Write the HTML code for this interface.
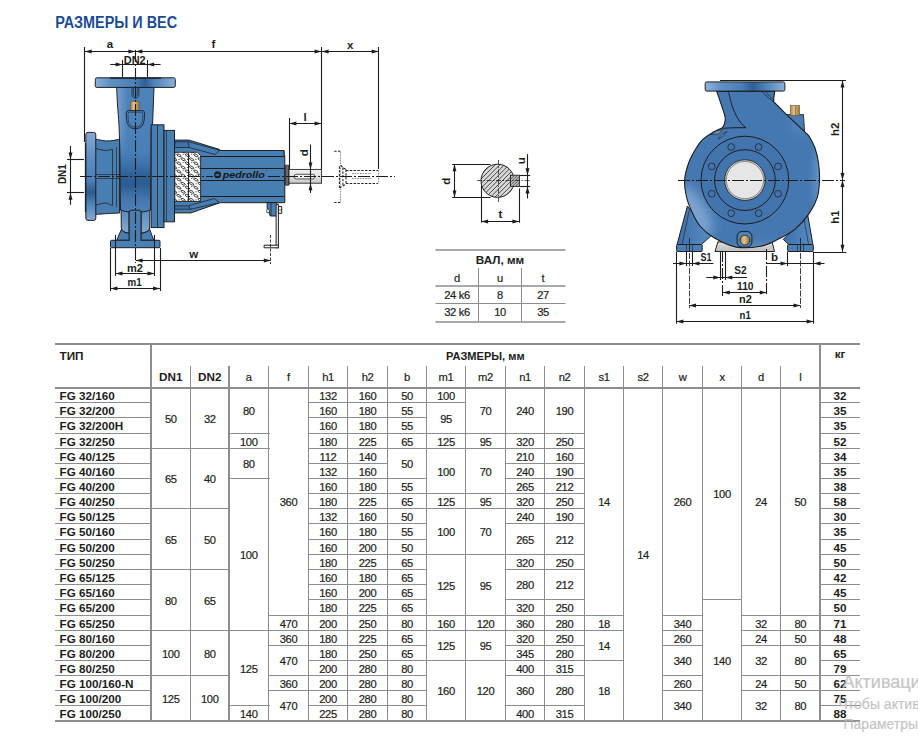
<!DOCTYPE html>
<html><head><meta charset="utf-8"><style>
html,body{margin:0;padding:0;background:#fff;}
body{width:918px;height:744px;overflow:hidden;position:relative;}
svg{position:absolute;left:0;top:0;font-family:"Liberation Sans", sans-serif;}
</style></head><body>
<svg width="918" height="744" viewBox="0 0 918 744">
<defs>
<linearGradient id="gTopFl" x1="0" y1="0" x2="1" y2="0">
 <stop offset="0" stop-color="#8fb1d9"/><stop offset="0.18" stop-color="#5f90c6"/>
 <stop offset="0.5" stop-color="#4a80b8"/><stop offset="0.62" stop-color="#2e5f95"/>
 <stop offset="0.72" stop-color="#4a80b8"/><stop offset="1" stop-color="#8fb1d9"/></linearGradient>
<linearGradient id="gLFl" x1="0" y1="0" x2="0" y2="1">
 <stop offset="0" stop-color="#86a9d4"/><stop offset="0.3" stop-color="#5b8cc3"/>
 <stop offset="0.55" stop-color="#4a80b8"/><stop offset="0.68" stop-color="#2c5b8f"/>
 <stop offset="0.8" stop-color="#4a80b8"/><stop offset="1" stop-color="#86a9d4"/></linearGradient>
<linearGradient id="gVol" x1="0" y1="0" x2="0" y2="1">
 <stop offset="0" stop-color="#4d83bb"/><stop offset="0.5" stop-color="#4a80b8"/>
 <stop offset="0.63" stop-color="#3d70a8"/><stop offset="0.7" stop-color="#2f6096"/>
 <stop offset="0.78" stop-color="#2d5d92"/><stop offset="0.9" stop-color="#4578b0"/>
 <stop offset="1" stop-color="#4a80b8"/></linearGradient>
<linearGradient id="gStem" x1="0" y1="0" x2="0" y2="1">
 <stop offset="0" stop-color="#4a80b8"/><stop offset="1" stop-color="#8aaad2"/></linearGradient>
<linearGradient id="gCollar" x1="0" y1="0" x2="1" y2="0">
 <stop offset="0" stop-color="#333"/><stop offset="0.5" stop-color="#777"/><stop offset="1" stop-color="#444"/></linearGradient>
<linearGradient id="gShaft" x1="0" y1="0" x2="0" y2="1">
 <stop offset="0" stop-color="#f2f2f2"/><stop offset="0.5" stop-color="#e0e0e0"/><stop offset="1" stop-color="#c8c8c8"/></linearGradient>
<linearGradient id="gGold" x1="0" y1="0" x2="1" y2="0">
 <stop offset="0" stop-color="#a8823f"/><stop offset="0.4" stop-color="#e7c38a"/><stop offset="1" stop-color="#9b7436"/></linearGradient>
<radialGradient id="gBody" cx="0.45" cy="0.55" r="0.6">
 <stop offset="0" stop-color="#3f74ae"/><stop offset="0.6" stop-color="#4678b2"/><stop offset="1" stop-color="#6a97c9"/></radialGradient>
<linearGradient id="gRFl" x1="0" y1="0" x2="1" y2="0">
 <stop offset="0" stop-color="#8fb1d9"/><stop offset="0.2" stop-color="#5f90c6"/>
 <stop offset="0.45" stop-color="#4a80b8"/><stop offset="0.6" stop-color="#2e5f95"/>
 <stop offset="0.75" stop-color="#4a80b8"/><stop offset="1" stop-color="#8fb1d9"/></linearGradient>
<linearGradient id="gLeg" x1="0" y1="0" x2="1" y2="0">
 <stop offset="0" stop-color="#3d70aa"/><stop offset="1" stop-color="#5a8cc3"/></linearGradient>
<linearGradient id="gBase" x1="0" y1="0" x2="0" y2="1">
 <stop offset="0" stop-color="#dcdcdc"/><stop offset="1" stop-color="#bdbdbd"/></linearGradient>
<pattern id="mesh" x="175" y="152.5" width="8.6" height="9.6" patternUnits="userSpaceOnUse">
 <rect width="8.6" height="9.6" fill="#fff"/>
 <ellipse cx="2.7" cy="2.6" rx="3.1" ry="1.3" transform="rotate(35 2.7 2.6)" fill="none" stroke="#222" stroke-width="0.98"/>
 <ellipse cx="7.0" cy="7.4" rx="3.1" ry="1.3" transform="rotate(35 7.0 7.4)" fill="none" stroke="#222" stroke-width="0.98"/>
 <circle cx="7.4" cy="2.0" r="0.65" fill="#333"/><circle cx="2.0" cy="7.6" r="0.65" fill="#333"/>
</pattern>
</defs>
<path d="M95.5,139.1 C97.2,139.4 102.6,140.7 105.5,140.9 C108.4,141.1 110.7,140.8 113.0,140.5 C115.3,140.2 118.5,139.3 119.6,139.1 L119.6,213.0 C118.5,213.1 115.3,213.2 113.0,213.3 C110.7,213.4 108.4,213.5 105.5,213.7 C102.6,213.9 97.2,214.3 95.5,214.4 Z" fill="#487eb2" stroke="#1d1d1b" stroke-width="0.98" />
<path d="M96.1,148.5 C97.7,148.8 102.8,150.4 105.5,150.5 C108.2,150.6 111.2,149.4 112.3,149.2" fill="none" stroke="#1d1d1b" stroke-width="0.73" />
<path d="M96.1,205.0 C97.7,204.7 102.8,202.9 105.5,203.0 C108.2,203.1 111.2,205.2 112.3,205.6" fill="none" stroke="#1d1d1b" stroke-width="0.73" />
<line x1="112.5" y1="149.2" x2="112.5" y2="205.6" stroke="#1d1d1b" stroke-width="0.73"/>
<line x1="116.5" y1="147.0" x2="116.5" y2="207.0" stroke="#1d1d1b" stroke-width="0.61"/>
<line x1="96.0" y1="174.5" x2="119.6" y2="174.5" stroke="#1d1d1b" stroke-width="0.61"/>
<line x1="96.0" y1="178.5" x2="119.6" y2="178.5" stroke="#1d1d1b" stroke-width="0.61"/>
<rect x="85.8" y="132.4" width="10" height="88" rx="2.2" fill="url(#gLFl)" stroke="#1d1d1b" stroke-width="0.98"/>
<line x1="85.5" y1="143.0" x2="85.5" y2="212.0" stroke="#1d1d1b" stroke-width="1.25"/>
<path d="M121,204 L121.3,228 Q122,232.2 129,233.3 L129,204 Z" fill="url(#gStem)" stroke="#1d1d1b" stroke-width="0.98" />
<path d="M150,204 L149.7,228 Q149,232.2 141,233.3 L141,204 Z" fill="url(#gStem)" stroke="#1d1d1b" stroke-width="0.98" />
<path d="M121.3,229.5 L116.8,240.3 L129.5,240.3 L129.3,233.3 Q122.5,232.6 121.3,229.5 Z" fill="#487eb2" stroke="#1d1d1b" stroke-width="0.98" />
<path d="M149.7,229.5 L153.8,240.3 L140.7,240.3 L140.9,233.3 Q147.5,232.6 149.7,229.5 Z" fill="#487eb2" stroke="#1d1d1b" stroke-width="0.98" />
<rect x="110.5" y="240.3" width="49.5" height="7.4" rx="1" fill="#4a80b8" stroke="#1d1d1b" stroke-width="0.98"/>
<path d="M116.6,87.3 C116.8,90.2 117.1,98.7 117.5,105.0 C117.9,111.3 118.6,117.5 119.0,125.0 C119.4,132.5 119.7,145.8 119.8,150.0 L120.5,210  C128,213 143,213 150.5,210 L151.2,130 L152.6,124 L154,87.3 Z" fill="url(#gVol)" stroke="#1d1d1b" stroke-width="0.00" />
<clipPath id="vlclip"><path d="M116.6,87.3 C116.8,90.2 117.1,98.7 117.5,105.0 C117.9,111.3 118.6,117.5 119.0,125.0 C119.4,132.5 119.7,145.8 119.8,150.0 L120.5,210  C128,213 143,213 150.5,210 L151.2,130 L152.6,124 L154,87.3 Z"/></clipPath>
<linearGradient id="gNeckHi" x1="0" y1="0" x2="1" y2="0"><stop offset="0" stop-color="#9dbde2" stop-opacity="0.55"/><stop offset="1" stop-color="#9dbde2" stop-opacity="0"/></linearGradient>
<linearGradient id="gNeckFade" x1="0" y1="0" x2="0" y2="1"><stop offset="0" stop-color="#fff"/><stop offset="0.6" stop-color="#fff"/><stop offset="1" stop-color="#000"/></linearGradient>
<mask id="neckmask"><rect x="110" y="87" width="50" height="70" fill="url(#gNeckFade)"/></mask>
<g clip-path="url(#vlclip)"><rect x="116" y="87" width="12" height="70" fill="url(#gNeckHi)" mask="url(#neckmask)"/></g>
<path d="M116.6,87.3 C116.8,90.2 117.1,98.7 117.5,105.0 C117.9,111.3 118.6,117.5 119.0,125.0 C119.4,132.5 119.7,145.8 119.8,150.0 L120.5,210  C128,213 143,213 150.5,210 L151.2,130 L152.6,124 L154,87.3 Z" fill="none" stroke="#1d1d1b" stroke-width="0.98" />
<path d="M129.2,241 L129.2,212.3 Q129.2,210.2 131.3,210.2 L138.9,210.2 Q141,210.2 141,212.3 L141,241" fill="#487eb2" stroke="#1d1d1b" stroke-width="0.98" />
<rect x="151.2" y="124.8" width="12.8" height="102.8" fill="#487eb2" stroke="#1d1d1b" stroke-width="0.98"/>
<line x1="157.5" y1="125.0" x2="157.5" y2="227.5" stroke="#1d1d1b" stroke-width="0.73"/>
<rect x="164" y="130.4" width="10.5" height="91.4" fill="#487eb2" stroke="#1d1d1b" stroke-width="0.98"/>
<line x1="166.5" y1="130.5" x2="166.5" y2="221.8" stroke="#1d1d1b" stroke-width="0.61"/>
<rect x="95.3" y="77.8" width="80" height="9.6" rx="1.6" fill="url(#gTopFl)" stroke="#1d1d1b" stroke-width="0.98"/>
<line x1="110.0" y1="78.2" x2="161.0" y2="78.2" stroke="#1d1d1b" stroke-width="1.25"/>
<path d="M132,88 L132,96 Q135.4,100.5 138.8,96 L138.8,88" fill="none" stroke="#1d1d1b" stroke-width="0.73" />
<path d="M133.5,88 L133.5,95 Q135.4,98 137.3,95 L137.3,88" fill="none" stroke="#1d1d1b" stroke-width="0.61" />
<rect x="130.6" y="101.3" width="8.5" height="9.3" fill="url(#gGold)" stroke="#6b5a3a" stroke-width="0.61"/>
<path d="M128.5,110.6 L142.4,110.6 Q144.6,110.6 144.6,113 L144.3,119.5 Q143.6,128.7 135.4,128.7 Q127.2,128.7 126.5,119.5 L126.2,113 Q126.2,110.6 128.5,110.6 Z" fill="none" stroke="#1d1d1b" stroke-width="0.85" />
<path d="M129.4,112.2 L141.4,112.2 Q143,112.2 142.9,114 L142.6,119.5 Q142,127.1 135.4,127.1 Q128.8,127.1 128.2,119.5 L127.9,114 Q127.8,112.2 129.4,112.2 Z" fill="none" stroke="#1d1d1b" stroke-width="0.55" />
<path d="M174.5,140.1 L189.0,140.1 L219.7,149.5 L219.7,202.8 L190.9,212.9 L174.5,212.9 Z" fill="#487eb2" stroke="#1d1d1b" stroke-width="0.98" />
<path d="M174.8,141.8 L188.5,141.8 L189.0,147.5 L174.8,147.5 Z" fill="#3f72aa" stroke="#1d1d1b" stroke-width="0.73" />
<path d="M189.0,141.8 L192.0,142.8 L219.7,150.3" fill="none" stroke="#1d1d1b" stroke-width="0.73" />
<path d="M189.0,147.5 L215.1,154.5 L219.7,150.3" fill="none" stroke="#1d1d1b" stroke-width="0.73" />
<path d="M174.8,205.9 L188.3,205.9 L190.9,209.2 L174.8,209.2 Z" fill="#3f72aa" stroke="#1d1d1b" stroke-width="0.73" />
<path d="M188.3,205.8 L214.4,198.5 L219.7,202.6" fill="none" stroke="#1d1d1b" stroke-width="0.73" />
<path d="M190.9,209.2 L219.7,202.6" fill="none" stroke="#1d1d1b" stroke-width="0.73" />
<clipPath id="mwclip"><path d="M174.8,152.3 L197.5,152.3 L200.6,155.5 L200.6,201.5 L174.8,201.5 Z"/></clipPath>
<path d="M174.8,152.3 L197.5,152.3 L200.6,155.5 L200.6,201.5 L174.8,201.5 Z" fill="#fff" stroke="#1d1d1b" stroke-width="0.00" />
<g clip-path="url(#mwclip)" fill="none" stroke="#222" stroke-width="0.79">
<ellipse cx="170.4" cy="147.2" rx="2.4" ry="1.0" transform="rotate(28 170.4 147.2)"/>
<ellipse cx="174.6" cy="151.2" rx="2.4" ry="1.0" transform="rotate(28 174.6 151.2)"/>
<circle cx="174.7" cy="146.0" r="0.55" fill="#333" stroke="none"/>
<circle cx="170.5" cy="151.3" r="0.55" fill="#333" stroke="none"/>
<ellipse cx="178.9" cy="147.2" rx="2.4" ry="1.0" transform="rotate(28 178.9 147.2)"/>
<ellipse cx="183.1" cy="151.2" rx="2.4" ry="1.0" transform="rotate(28 183.1 151.2)"/>
<circle cx="183.2" cy="146.0" r="0.55" fill="#333" stroke="none"/>
<circle cx="179.0" cy="151.3" r="0.55" fill="#333" stroke="none"/>
<ellipse cx="187.4" cy="147.2" rx="2.4" ry="1.0" transform="rotate(28 187.4 147.2)"/>
<ellipse cx="191.6" cy="151.2" rx="2.4" ry="1.0" transform="rotate(28 191.6 151.2)"/>
<circle cx="191.7" cy="146.0" r="0.55" fill="#333" stroke="none"/>
<circle cx="187.5" cy="151.3" r="0.55" fill="#333" stroke="none"/>
<ellipse cx="195.9" cy="147.2" rx="2.4" ry="1.0" transform="rotate(28 195.9 147.2)"/>
<ellipse cx="200.1" cy="151.2" rx="2.4" ry="1.0" transform="rotate(28 200.1 151.2)"/>
<circle cx="200.2" cy="146.0" r="0.55" fill="#333" stroke="none"/>
<circle cx="196.0" cy="151.3" r="0.55" fill="#333" stroke="none"/>
<ellipse cx="204.4" cy="147.2" rx="2.4" ry="1.0" transform="rotate(28 204.4 147.2)"/>
<ellipse cx="208.6" cy="151.2" rx="2.4" ry="1.0" transform="rotate(28 208.6 151.2)"/>
<circle cx="208.7" cy="146.0" r="0.55" fill="#333" stroke="none"/>
<circle cx="204.5" cy="151.3" r="0.55" fill="#333" stroke="none"/>
<ellipse cx="170.4" cy="155.3" rx="2.4" ry="1.0" transform="rotate(28 170.4 155.3)"/>
<ellipse cx="174.6" cy="159.3" rx="2.4" ry="1.0" transform="rotate(28 174.6 159.3)"/>
<circle cx="174.7" cy="154.1" r="0.55" fill="#333" stroke="none"/>
<circle cx="170.5" cy="159.4" r="0.55" fill="#333" stroke="none"/>
<ellipse cx="178.9" cy="155.3" rx="2.4" ry="1.0" transform="rotate(28 178.9 155.3)"/>
<ellipse cx="183.1" cy="159.3" rx="2.4" ry="1.0" transform="rotate(28 183.1 159.3)"/>
<circle cx="183.2" cy="154.1" r="0.55" fill="#333" stroke="none"/>
<circle cx="179.0" cy="159.4" r="0.55" fill="#333" stroke="none"/>
<ellipse cx="187.4" cy="155.3" rx="2.4" ry="1.0" transform="rotate(28 187.4 155.3)"/>
<ellipse cx="191.6" cy="159.3" rx="2.4" ry="1.0" transform="rotate(28 191.6 159.3)"/>
<circle cx="191.7" cy="154.1" r="0.55" fill="#333" stroke="none"/>
<circle cx="187.5" cy="159.4" r="0.55" fill="#333" stroke="none"/>
<ellipse cx="195.9" cy="155.3" rx="2.4" ry="1.0" transform="rotate(28 195.9 155.3)"/>
<ellipse cx="200.1" cy="159.3" rx="2.4" ry="1.0" transform="rotate(28 200.1 159.3)"/>
<circle cx="200.2" cy="154.1" r="0.55" fill="#333" stroke="none"/>
<circle cx="196.0" cy="159.4" r="0.55" fill="#333" stroke="none"/>
<ellipse cx="204.4" cy="155.3" rx="2.4" ry="1.0" transform="rotate(28 204.4 155.3)"/>
<ellipse cx="208.6" cy="159.3" rx="2.4" ry="1.0" transform="rotate(28 208.6 159.3)"/>
<circle cx="208.7" cy="154.1" r="0.55" fill="#333" stroke="none"/>
<circle cx="204.5" cy="159.4" r="0.55" fill="#333" stroke="none"/>
<ellipse cx="170.4" cy="163.4" rx="2.4" ry="1.0" transform="rotate(28 170.4 163.4)"/>
<ellipse cx="174.6" cy="167.4" rx="2.4" ry="1.0" transform="rotate(28 174.6 167.4)"/>
<circle cx="174.7" cy="162.2" r="0.55" fill="#333" stroke="none"/>
<circle cx="170.5" cy="167.5" r="0.55" fill="#333" stroke="none"/>
<ellipse cx="178.9" cy="163.4" rx="2.4" ry="1.0" transform="rotate(28 178.9 163.4)"/>
<ellipse cx="183.1" cy="167.4" rx="2.4" ry="1.0" transform="rotate(28 183.1 167.4)"/>
<circle cx="183.2" cy="162.2" r="0.55" fill="#333" stroke="none"/>
<circle cx="179.0" cy="167.5" r="0.55" fill="#333" stroke="none"/>
<ellipse cx="187.4" cy="163.4" rx="2.4" ry="1.0" transform="rotate(28 187.4 163.4)"/>
<ellipse cx="191.6" cy="167.4" rx="2.4" ry="1.0" transform="rotate(28 191.6 167.4)"/>
<circle cx="191.7" cy="162.2" r="0.55" fill="#333" stroke="none"/>
<circle cx="187.5" cy="167.5" r="0.55" fill="#333" stroke="none"/>
<ellipse cx="195.9" cy="163.4" rx="2.4" ry="1.0" transform="rotate(28 195.9 163.4)"/>
<ellipse cx="200.1" cy="167.4" rx="2.4" ry="1.0" transform="rotate(28 200.1 167.4)"/>
<circle cx="200.2" cy="162.2" r="0.55" fill="#333" stroke="none"/>
<circle cx="196.0" cy="167.5" r="0.55" fill="#333" stroke="none"/>
<ellipse cx="204.4" cy="163.4" rx="2.4" ry="1.0" transform="rotate(28 204.4 163.4)"/>
<ellipse cx="208.6" cy="167.4" rx="2.4" ry="1.0" transform="rotate(28 208.6 167.4)"/>
<circle cx="208.7" cy="162.2" r="0.55" fill="#333" stroke="none"/>
<circle cx="204.5" cy="167.5" r="0.55" fill="#333" stroke="none"/>
<ellipse cx="170.4" cy="171.5" rx="2.4" ry="1.0" transform="rotate(28 170.4 171.5)"/>
<ellipse cx="174.6" cy="175.5" rx="2.4" ry="1.0" transform="rotate(28 174.6 175.5)"/>
<circle cx="174.7" cy="170.3" r="0.55" fill="#333" stroke="none"/>
<circle cx="170.5" cy="175.6" r="0.55" fill="#333" stroke="none"/>
<ellipse cx="178.9" cy="171.5" rx="2.4" ry="1.0" transform="rotate(28 178.9 171.5)"/>
<ellipse cx="183.1" cy="175.5" rx="2.4" ry="1.0" transform="rotate(28 183.1 175.5)"/>
<circle cx="183.2" cy="170.3" r="0.55" fill="#333" stroke="none"/>
<circle cx="179.0" cy="175.6" r="0.55" fill="#333" stroke="none"/>
<ellipse cx="187.4" cy="171.5" rx="2.4" ry="1.0" transform="rotate(28 187.4 171.5)"/>
<ellipse cx="191.6" cy="175.5" rx="2.4" ry="1.0" transform="rotate(28 191.6 175.5)"/>
<circle cx="191.7" cy="170.3" r="0.55" fill="#333" stroke="none"/>
<circle cx="187.5" cy="175.6" r="0.55" fill="#333" stroke="none"/>
<ellipse cx="195.9" cy="171.5" rx="2.4" ry="1.0" transform="rotate(28 195.9 171.5)"/>
<ellipse cx="200.1" cy="175.5" rx="2.4" ry="1.0" transform="rotate(28 200.1 175.5)"/>
<circle cx="200.2" cy="170.3" r="0.55" fill="#333" stroke="none"/>
<circle cx="196.0" cy="175.6" r="0.55" fill="#333" stroke="none"/>
<ellipse cx="204.4" cy="171.5" rx="2.4" ry="1.0" transform="rotate(28 204.4 171.5)"/>
<ellipse cx="208.6" cy="175.5" rx="2.4" ry="1.0" transform="rotate(28 208.6 175.5)"/>
<circle cx="208.7" cy="170.3" r="0.55" fill="#333" stroke="none"/>
<circle cx="204.5" cy="175.6" r="0.55" fill="#333" stroke="none"/>
<ellipse cx="170.4" cy="179.6" rx="2.4" ry="1.0" transform="rotate(28 170.4 179.6)"/>
<ellipse cx="174.6" cy="183.7" rx="2.4" ry="1.0" transform="rotate(28 174.6 183.7)"/>
<circle cx="174.7" cy="178.4" r="0.55" fill="#333" stroke="none"/>
<circle cx="170.5" cy="183.7" r="0.55" fill="#333" stroke="none"/>
<ellipse cx="178.9" cy="179.6" rx="2.4" ry="1.0" transform="rotate(28 178.9 179.6)"/>
<ellipse cx="183.1" cy="183.7" rx="2.4" ry="1.0" transform="rotate(28 183.1 183.7)"/>
<circle cx="183.2" cy="178.4" r="0.55" fill="#333" stroke="none"/>
<circle cx="179.0" cy="183.7" r="0.55" fill="#333" stroke="none"/>
<ellipse cx="187.4" cy="179.6" rx="2.4" ry="1.0" transform="rotate(28 187.4 179.6)"/>
<ellipse cx="191.6" cy="183.7" rx="2.4" ry="1.0" transform="rotate(28 191.6 183.7)"/>
<circle cx="191.7" cy="178.4" r="0.55" fill="#333" stroke="none"/>
<circle cx="187.5" cy="183.7" r="0.55" fill="#333" stroke="none"/>
<ellipse cx="195.9" cy="179.6" rx="2.4" ry="1.0" transform="rotate(28 195.9 179.6)"/>
<ellipse cx="200.1" cy="183.7" rx="2.4" ry="1.0" transform="rotate(28 200.1 183.7)"/>
<circle cx="200.2" cy="178.4" r="0.55" fill="#333" stroke="none"/>
<circle cx="196.0" cy="183.7" r="0.55" fill="#333" stroke="none"/>
<ellipse cx="204.4" cy="179.6" rx="2.4" ry="1.0" transform="rotate(28 204.4 179.6)"/>
<ellipse cx="208.6" cy="183.7" rx="2.4" ry="1.0" transform="rotate(28 208.6 183.7)"/>
<circle cx="208.7" cy="178.4" r="0.55" fill="#333" stroke="none"/>
<circle cx="204.5" cy="183.7" r="0.55" fill="#333" stroke="none"/>
<ellipse cx="170.4" cy="187.7" rx="2.4" ry="1.0" transform="rotate(28 170.4 187.7)"/>
<ellipse cx="174.6" cy="191.8" rx="2.4" ry="1.0" transform="rotate(28 174.6 191.8)"/>
<circle cx="174.7" cy="186.5" r="0.55" fill="#333" stroke="none"/>
<circle cx="170.5" cy="191.8" r="0.55" fill="#333" stroke="none"/>
<ellipse cx="178.9" cy="187.7" rx="2.4" ry="1.0" transform="rotate(28 178.9 187.7)"/>
<ellipse cx="183.1" cy="191.8" rx="2.4" ry="1.0" transform="rotate(28 183.1 191.8)"/>
<circle cx="183.2" cy="186.5" r="0.55" fill="#333" stroke="none"/>
<circle cx="179.0" cy="191.8" r="0.55" fill="#333" stroke="none"/>
<ellipse cx="187.4" cy="187.7" rx="2.4" ry="1.0" transform="rotate(28 187.4 187.7)"/>
<ellipse cx="191.6" cy="191.8" rx="2.4" ry="1.0" transform="rotate(28 191.6 191.8)"/>
<circle cx="191.7" cy="186.5" r="0.55" fill="#333" stroke="none"/>
<circle cx="187.5" cy="191.8" r="0.55" fill="#333" stroke="none"/>
<ellipse cx="195.9" cy="187.7" rx="2.4" ry="1.0" transform="rotate(28 195.9 187.7)"/>
<ellipse cx="200.1" cy="191.8" rx="2.4" ry="1.0" transform="rotate(28 200.1 191.8)"/>
<circle cx="200.2" cy="186.5" r="0.55" fill="#333" stroke="none"/>
<circle cx="196.0" cy="191.8" r="0.55" fill="#333" stroke="none"/>
<ellipse cx="204.4" cy="187.7" rx="2.4" ry="1.0" transform="rotate(28 204.4 187.7)"/>
<ellipse cx="208.6" cy="191.8" rx="2.4" ry="1.0" transform="rotate(28 208.6 191.8)"/>
<circle cx="208.7" cy="186.5" r="0.55" fill="#333" stroke="none"/>
<circle cx="204.5" cy="191.8" r="0.55" fill="#333" stroke="none"/>
<ellipse cx="170.4" cy="195.8" rx="2.4" ry="1.0" transform="rotate(28 170.4 195.8)"/>
<ellipse cx="174.6" cy="199.8" rx="2.4" ry="1.0" transform="rotate(28 174.6 199.8)"/>
<circle cx="174.7" cy="194.6" r="0.55" fill="#333" stroke="none"/>
<circle cx="170.5" cy="199.9" r="0.55" fill="#333" stroke="none"/>
<ellipse cx="178.9" cy="195.8" rx="2.4" ry="1.0" transform="rotate(28 178.9 195.8)"/>
<ellipse cx="183.1" cy="199.8" rx="2.4" ry="1.0" transform="rotate(28 183.1 199.8)"/>
<circle cx="183.2" cy="194.6" r="0.55" fill="#333" stroke="none"/>
<circle cx="179.0" cy="199.9" r="0.55" fill="#333" stroke="none"/>
<ellipse cx="187.4" cy="195.8" rx="2.4" ry="1.0" transform="rotate(28 187.4 195.8)"/>
<ellipse cx="191.6" cy="199.8" rx="2.4" ry="1.0" transform="rotate(28 191.6 199.8)"/>
<circle cx="191.7" cy="194.6" r="0.55" fill="#333" stroke="none"/>
<circle cx="187.5" cy="199.9" r="0.55" fill="#333" stroke="none"/>
<ellipse cx="195.9" cy="195.8" rx="2.4" ry="1.0" transform="rotate(28 195.9 195.8)"/>
<ellipse cx="200.1" cy="199.8" rx="2.4" ry="1.0" transform="rotate(28 200.1 199.8)"/>
<circle cx="200.2" cy="194.6" r="0.55" fill="#333" stroke="none"/>
<circle cx="196.0" cy="199.9" r="0.55" fill="#333" stroke="none"/>
<ellipse cx="204.4" cy="195.8" rx="2.4" ry="1.0" transform="rotate(28 204.4 195.8)"/>
<ellipse cx="208.6" cy="199.8" rx="2.4" ry="1.0" transform="rotate(28 208.6 199.8)"/>
<circle cx="208.7" cy="194.6" r="0.55" fill="#333" stroke="none"/>
<circle cx="204.5" cy="199.9" r="0.55" fill="#333" stroke="none"/>
<ellipse cx="170.4" cy="203.9" rx="2.4" ry="1.0" transform="rotate(28 170.4 203.9)"/>
<ellipse cx="174.6" cy="207.9" rx="2.4" ry="1.0" transform="rotate(28 174.6 207.9)"/>
<circle cx="174.7" cy="202.7" r="0.55" fill="#333" stroke="none"/>
<circle cx="170.5" cy="208.0" r="0.55" fill="#333" stroke="none"/>
<ellipse cx="178.9" cy="203.9" rx="2.4" ry="1.0" transform="rotate(28 178.9 203.9)"/>
<ellipse cx="183.1" cy="207.9" rx="2.4" ry="1.0" transform="rotate(28 183.1 207.9)"/>
<circle cx="183.2" cy="202.7" r="0.55" fill="#333" stroke="none"/>
<circle cx="179.0" cy="208.0" r="0.55" fill="#333" stroke="none"/>
<ellipse cx="187.4" cy="203.9" rx="2.4" ry="1.0" transform="rotate(28 187.4 203.9)"/>
<ellipse cx="191.6" cy="207.9" rx="2.4" ry="1.0" transform="rotate(28 191.6 207.9)"/>
<circle cx="191.7" cy="202.7" r="0.55" fill="#333" stroke="none"/>
<circle cx="187.5" cy="208.0" r="0.55" fill="#333" stroke="none"/>
<ellipse cx="195.9" cy="203.9" rx="2.4" ry="1.0" transform="rotate(28 195.9 203.9)"/>
<ellipse cx="200.1" cy="207.9" rx="2.4" ry="1.0" transform="rotate(28 200.1 207.9)"/>
<circle cx="200.2" cy="202.7" r="0.55" fill="#333" stroke="none"/>
<circle cx="196.0" cy="208.0" r="0.55" fill="#333" stroke="none"/>
<ellipse cx="204.4" cy="203.9" rx="2.4" ry="1.0" transform="rotate(28 204.4 203.9)"/>
<ellipse cx="208.6" cy="207.9" rx="2.4" ry="1.0" transform="rotate(28 208.6 207.9)"/>
<circle cx="208.7" cy="202.7" r="0.55" fill="#333" stroke="none"/>
<circle cx="204.5" cy="208.0" r="0.55" fill="#333" stroke="none"/>
<ellipse cx="170.4" cy="212.0" rx="2.4" ry="1.0" transform="rotate(28 170.4 212.0)"/>
<ellipse cx="174.6" cy="216.0" rx="2.4" ry="1.0" transform="rotate(28 174.6 216.0)"/>
<circle cx="174.7" cy="210.8" r="0.55" fill="#333" stroke="none"/>
<circle cx="170.5" cy="216.1" r="0.55" fill="#333" stroke="none"/>
<ellipse cx="178.9" cy="212.0" rx="2.4" ry="1.0" transform="rotate(28 178.9 212.0)"/>
<ellipse cx="183.1" cy="216.0" rx="2.4" ry="1.0" transform="rotate(28 183.1 216.0)"/>
<circle cx="183.2" cy="210.8" r="0.55" fill="#333" stroke="none"/>
<circle cx="179.0" cy="216.1" r="0.55" fill="#333" stroke="none"/>
<ellipse cx="187.4" cy="212.0" rx="2.4" ry="1.0" transform="rotate(28 187.4 212.0)"/>
<ellipse cx="191.6" cy="216.0" rx="2.4" ry="1.0" transform="rotate(28 191.6 216.0)"/>
<circle cx="191.7" cy="210.8" r="0.55" fill="#333" stroke="none"/>
<circle cx="187.5" cy="216.1" r="0.55" fill="#333" stroke="none"/>
<ellipse cx="195.9" cy="212.0" rx="2.4" ry="1.0" transform="rotate(28 195.9 212.0)"/>
<ellipse cx="200.1" cy="216.0" rx="2.4" ry="1.0" transform="rotate(28 200.1 216.0)"/>
<circle cx="200.2" cy="210.8" r="0.55" fill="#333" stroke="none"/>
<circle cx="196.0" cy="216.1" r="0.55" fill="#333" stroke="none"/>
<ellipse cx="204.4" cy="212.0" rx="2.4" ry="1.0" transform="rotate(28 204.4 212.0)"/>
<ellipse cx="208.6" cy="216.0" rx="2.4" ry="1.0" transform="rotate(28 208.6 216.0)"/>
<circle cx="208.7" cy="210.8" r="0.55" fill="#333" stroke="none"/>
<circle cx="204.5" cy="216.1" r="0.55" fill="#333" stroke="none"/>
</g>
<path d="M174.8,152.3 L197.5,152.3 L200.6,155.5 L200.6,201.5 L174.8,201.5 Z" fill="none" stroke="#1d1d1b" stroke-width="0.85" />
<line x1="188.5" y1="152.6" x2="188.5" y2="201.0" stroke="#1d1d1b" stroke-width="0.98"/>
<rect x="219" y="150.5" width="65.8" height="52.2" fill="#487eb2"/>
<path d="M219.7,150.5 L284,150.5 L284,155.5 L284.8,155.5 L284.8,202.7 L219.7,202.7" fill="none" stroke="#1d1d1b" stroke-width="0.98" />
<line x1="200.6" y1="156.5" x2="284.2" y2="156.5" stroke="#1d1d1b" stroke-width="1.10"/>
<line x1="200.6" y1="168.5" x2="284.2" y2="168.5" stroke="#1d1d1b" stroke-width="1.10"/>
<line x1="200.6" y1="180.5" x2="284.2" y2="180.5" stroke="#1d1d1b" stroke-width="1.10"/>
<line x1="200.6" y1="196.5" x2="284.2" y2="196.5" stroke="#1d1d1b" stroke-width="1.10"/>
<rect x="284.8" y="165.2" width="4.4" height="20.1" rx="1" fill="url(#gCollar)" stroke="#1d1d1b" stroke-width="0.73"/>
<rect x="289" y="169.4" width="32.6" height="13.8" fill="url(#gShaft)" stroke="#1d1d1b" stroke-width="0.85"/>
<rect x="294" y="174.3" width="21" height="4.6" rx="2.3" fill="#f4f4f4" stroke="#1d1d1b" stroke-width="0.73"/>
<path d="M267.2,202.7 L276.8,202.7 L276.8,216.0 L270.3,216.0 L267.2,208.0 Z" fill="#487eb2" stroke="#1d1d1b" stroke-width="0.98" />
<path d="M271.0,202.7 L271.0,216.0" fill="none" stroke="#1d1d1b" stroke-width="0.73" />
<path d="M267.2,208.5 L269.5,210.5 L269.5,212.3 L266.5,212.3 Z" fill="#fff" stroke="#1d1d1b" stroke-width="0.73" />
<path d="M276.1,205.0 L278.4,204.3 L278.4,247.8 L276.1,247.8 Z" fill="#f4f4f4" stroke="#1d1d1b" stroke-width="0.98" />
<path d="M264.1,245.2 L278.4,245.2 L278.4,247.8 L264.1,247.8 Z" fill="#f4f4f4" stroke="#1d1d1b" stroke-width="0.98" />
<path d="M278.4,206.5 L281.7,206.5 L281.7,213.4 L278.4,213.4 Z" fill="#f4f4f4" stroke="#1d1d1b" stroke-width="0.98" />
<line x1="278.4" y1="210.0" x2="281.7" y2="210.0" stroke="#1d1d1b" stroke-width="0.61"/>
<circle cx="217.6" cy="174.7" r="3.5" fill="#1d1d1b"/>
<ellipse cx="217.4" cy="174.9" rx="2.2" ry="1.1" fill="#3f6fa5"/>
<text x="266" y="173.5" font-size="5" fill="#151515">'</text>
<text x="222.8" y="177.9" font-size="9.6" font-style="italic" font-weight="bold" fill="#151515" textLength="42" lengthAdjust="spacingAndGlyphs">pedrollo</text>
<path d="M340.5,152 L340.5,202" fill="none" stroke="#999" stroke-width="1.25" stroke-dasharray="1.6,1.0"/>
<path d="M334.2,151.3 L340.6,151.3 M334.2,202.5 L340.6,202.5" fill="none" stroke="#222" stroke-width="1.10" stroke-dasharray="2.4,1.4"/>
<path d="M339.4,187.8 L339.4,166.5 Q339.6,165.3 341,165.6 L342.9,167.5 L346,169.5 M339.4,187.8 L342.9,186 L346,184" fill="none" stroke="#222" stroke-width="1.10" stroke-dasharray="2.4,1.4"/>
<path d="M342.9,167.5 L342.9,186 M346,169.5 L346,184" fill="none" stroke="#222" stroke-width="1.10" stroke-dasharray="2.4,1.4"/>
<path d="M346,170.5 L378,170.5 M346,183.5 L378,183.5" fill="none" stroke="#222" stroke-width="1.22" stroke-dasharray="2.4,1.4"/>
<path d="M378.5,170.3 L378.5,183.5" fill="none" stroke="#999" stroke-width="1.25" stroke-dasharray="1.6,1.0"/>
<path d="M352.1,173.5 L371.3,173.5 M352.1,178.5 L371.3,178.5" fill="none" stroke="#888" stroke-width="1.22" stroke-dasharray="1.6,1.0"/>
<line x1="80.0" y1="176.5" x2="213.0" y2="176.5" stroke="#1d1d1b" stroke-width="1.10" stroke-dasharray="12,2,2,2"/>
<line x1="268.0" y1="176.5" x2="395.0" y2="176.5" stroke="#1d1d1b" stroke-width="1.10" stroke-dasharray="12,2,2,2"/>
<line x1="135.5" y1="50.0" x2="135.5" y2="263.0" stroke="#1d1d1b" stroke-width="1.10" stroke-dasharray="12,2,2,2"/>
<line x1="84.5" y1="47.0" x2="84.5" y2="142.0" stroke="#1d1d1b" stroke-width="1.10"/>
<line x1="321.5" y1="47.0" x2="321.5" y2="169.4" stroke="#1d1d1b" stroke-width="1.10"/>
<line x1="378.5" y1="47.0" x2="378.5" y2="169.0" stroke="#1d1d1b" stroke-width="1.10"/>
<line x1="84.7" y1="51.5" x2="378.7" y2="51.5" stroke="#1d1d1b" stroke-width="1.10"/>
<path d="M84.7,51.5 L91.7,49.5 L91.7,53.5 Z" fill="#1d1d1b"/>
<path d="M135.4,51.5 L128.4,53.5 L128.4,49.5 Z" fill="#1d1d1b"/>
<path d="M135.4,51.5 L142.4,49.5 L142.4,53.5 Z" fill="#1d1d1b"/>
<path d="M321.6,51.5 L314.6,53.5 L314.6,49.5 Z" fill="#1d1d1b"/>
<path d="M321.6,51.5 L328.6,49.5 L328.6,53.5 Z" fill="#1d1d1b"/>
<path d="M378.7,51.5 L371.7,53.5 L371.7,49.5 Z" fill="#1d1d1b"/>
<text x="110" y="47.8" font-size="11.5" text-anchor="middle" fill="#1d1d1b" font-weight="bold">a</text>
<text x="213.5" y="47.5" font-size="11.5" text-anchor="middle" fill="#1d1d1b" font-weight="bold">f</text>
<text x="350.2" y="48.8" font-size="11.5" text-anchor="middle" fill="#1d1d1b" font-weight="bold">x</text>
<line x1="110.2" y1="64.5" x2="160.6" y2="64.5" stroke="#1d1d1b" stroke-width="1.10"/>
<line x1="122.5" y1="60.0" x2="122.5" y2="77.0" stroke="#1d1d1b" stroke-width="1.10"/>
<line x1="147.5" y1="60.0" x2="147.5" y2="77.0" stroke="#1d1d1b" stroke-width="1.10"/>
<path d="M122.6,64.5 L115.6,66.5 L115.6,62.5 Z" fill="#1d1d1b"/>
<path d="M147.2,64.5 L154.2,62.5 L154.2,66.5 Z" fill="#1d1d1b"/>
<text x="134.7" y="64.2" font-size="11.5" text-anchor="middle" fill="#1d1d1b" font-weight="bold" textLength="21.9" lengthAdjust="spacingAndGlyphs">DN2</text>
<line x1="289.5" y1="118.0" x2="289.5" y2="169.0" stroke="#1d1d1b" stroke-width="1.10"/>
<line x1="289.4" y1="123.5" x2="321.6" y2="123.5" stroke="#1d1d1b" stroke-width="1.10"/>
<path d="M289.4,123.5 L296.4,121.5 L296.4,125.5 Z" fill="#1d1d1b"/>
<path d="M321.6,123.5 L314.6,125.5 L314.6,121.5 Z" fill="#1d1d1b"/>
<text x="305.2" y="121.3" font-size="11.5" text-anchor="middle" fill="#1d1d1b" font-weight="bold">l</text>
<line x1="310.5" y1="144.5" x2="310.5" y2="193.0" stroke="#1d1d1b" stroke-width="1.10"/>
<path d="M310.5,169.4 L308.6,162.4 L312.4,162.4 Z" fill="#1d1d1b"/>
<path d="M310.5,183.2 L312.4,190.2 L308.6,190.2 Z" fill="#1d1d1b"/>
<text x="307.9" y="152.6" font-size="11.5" text-anchor="middle" fill="#1d1d1b" font-weight="bold" transform="rotate(-90 307.9 152.6)">d</text>
<line x1="70.5" y1="146.0" x2="70.5" y2="204.8" stroke="#1d1d1b" stroke-width="1.10"/>
<line x1="67.0" y1="159.5" x2="84.0" y2="159.5" stroke="#1d1d1b" stroke-width="1.10"/>
<line x1="67.0" y1="192.5" x2="84.0" y2="192.5" stroke="#1d1d1b" stroke-width="1.10"/>
<path d="M70.5,159.4 L68.5,152.4 L72.5,152.4 Z" fill="#1d1d1b"/>
<path d="M70.5,192.7 L72.5,199.7 L68.5,199.7 Z" fill="#1d1d1b"/>
<text x="66.5" y="174.1" font-size="11.5" text-anchor="middle" fill="#1d1d1b" font-weight="bold" transform="rotate(-90 66.5 174.1)" textLength="20" lengthAdjust="spacingAndGlyphs">DN1</text>
<line x1="135.6" y1="260.5" x2="270.8" y2="260.5" stroke="#1d1d1b" stroke-width="1.10"/>
<path d="M135.6,260.5 L142.6,258.6 L142.6,262.4 Z" fill="#1d1d1b"/>
<path d="M270.8,260.5 L263.8,262.4 L263.8,258.6 Z" fill="#1d1d1b"/>
<line x1="270.5" y1="235.0" x2="270.5" y2="264.0" stroke="#1d1d1b" stroke-width="0.85" stroke-dasharray="3,1.5"/>
<text x="193.8" y="258.3" font-size="11.5" text-anchor="middle" fill="#1d1d1b" font-weight="bold">w</text>
<line x1="110.5" y1="248.0" x2="110.5" y2="291.0" stroke="#1d1d1b" stroke-width="1.10"/>
<line x1="160.5" y1="248.0" x2="160.5" y2="291.0" stroke="#1d1d1b" stroke-width="1.10"/>
<line x1="115.5" y1="235.0" x2="115.5" y2="276.0" stroke="#1d1d1b" stroke-width="1.10"/>
<line x1="154.5" y1="235.0" x2="154.5" y2="276.0" stroke="#1d1d1b" stroke-width="1.10"/>
<line x1="115.5" y1="273.5" x2="154.5" y2="273.5" stroke="#1d1d1b" stroke-width="1.10"/>
<path d="M115.5,273.5 L122.5,271.6 L122.5,275.4 Z" fill="#1d1d1b"/>
<path d="M154.5,273.5 L147.5,275.4 L147.5,271.6 Z" fill="#1d1d1b"/>
<line x1="110.4" y1="288.5" x2="160.0" y2="288.5" stroke="#1d1d1b" stroke-width="1.10"/>
<path d="M110.4,288.5 L117.4,286.6 L117.4,290.4 Z" fill="#1d1d1b"/>
<path d="M160.0,288.5 L153.0,290.4 L153.0,286.6 Z" fill="#1d1d1b"/>
<text x="134.9" y="272" font-size="11.5" text-anchor="middle" fill="#1d1d1b" font-weight="bold" textLength="15.9" lengthAdjust="spacingAndGlyphs">m2</text>
<text x="134.7" y="286" font-size="11.5" text-anchor="middle" fill="#1d1d1b" font-weight="bold" textLength="14.2" lengthAdjust="spacingAndGlyphs">m1</text>
<defs><pattern id="hatch" width="4" height="4" patternUnits="userSpaceOnUse" patternTransform="rotate(45)"><rect width="4" height="4" fill="#d9d9d9"/><line x1="0" y1="0" x2="0" y2="4" stroke="#555" stroke-width="1.10"/></pattern><pattern id="hatch2" width="2.2" height="2.2" patternUnits="userSpaceOnUse" patternTransform="rotate(45)"><rect width="2.2" height="2.2" fill="#bbb"/><line x1="0" y1="0" x2="0" y2="2.2" stroke="#444" stroke-width="0.85"/></pattern></defs>
<clipPath id="scl"><circle cx="497.6" cy="180.8" r="16.6"/></clipPath><clipPath id="kcl"><rect x="510.4" y="175.2" width="9" height="11.2"/></clipPath>
<circle cx="497.6" cy="180.8" r="16.6" fill="#d9d9d9"/>
<g clip-path="url(#scl)" stroke="#3a3a3a" stroke-width="0.92">
<line x1="422.4" y1="200.8" x2="462.4" y2="160.8"/>
<line x1="427.0" y1="200.8" x2="467.0" y2="160.8"/>
<line x1="431.6" y1="200.8" x2="471.6" y2="160.8"/>
<line x1="436.2" y1="200.8" x2="476.2" y2="160.8"/>
<line x1="440.8" y1="200.8" x2="480.8" y2="160.8"/>
<line x1="445.4" y1="200.8" x2="485.4" y2="160.8"/>
<line x1="450.0" y1="200.8" x2="490.0" y2="160.8"/>
<line x1="454.6" y1="200.8" x2="494.6" y2="160.8"/>
<line x1="459.2" y1="200.8" x2="499.2" y2="160.8"/>
<line x1="463.8" y1="200.8" x2="503.8" y2="160.8"/>
<line x1="468.4" y1="200.8" x2="508.4" y2="160.8"/>
<line x1="473.0" y1="200.8" x2="513.0" y2="160.8"/>
<line x1="477.6" y1="200.8" x2="517.6" y2="160.8"/>
<line x1="482.2" y1="200.8" x2="522.2" y2="160.8"/>
<line x1="486.8" y1="200.8" x2="526.8" y2="160.8"/>
<line x1="491.4" y1="200.8" x2="531.4" y2="160.8"/>
<line x1="496.0" y1="200.8" x2="536.0" y2="160.8"/>
<line x1="500.6" y1="200.8" x2="540.6" y2="160.8"/>
<line x1="505.2" y1="200.8" x2="545.2" y2="160.8"/>
<line x1="509.8" y1="200.8" x2="549.8" y2="160.8"/>
<line x1="514.4" y1="200.8" x2="554.4" y2="160.8"/>
<line x1="519.0" y1="200.8" x2="559.0" y2="160.8"/>
<line x1="523.6" y1="200.8" x2="563.6" y2="160.8"/>
<line x1="528.2" y1="200.8" x2="568.2" y2="160.8"/>
<line x1="532.8" y1="200.8" x2="572.8" y2="160.8"/>
</g>
<circle cx="497.6" cy="180.8" r="16.6" fill="none" stroke="#1d1d1b" stroke-width="0.98"/>
<rect x="510.4" y="175.2" width="9" height="11.2" fill="#bdbdbd"/>
<g clip-path="url(#kcl)" stroke="#333" stroke-width="0.73">
<line x1="483.0" y1="188.8" x2="499.0" y2="172.8"/>
<line x1="486.0" y1="188.8" x2="502.0" y2="172.8"/>
<line x1="489.0" y1="188.8" x2="505.0" y2="172.8"/>
<line x1="492.0" y1="188.8" x2="508.0" y2="172.8"/>
<line x1="495.0" y1="188.8" x2="511.0" y2="172.8"/>
<line x1="498.0" y1="188.8" x2="514.0" y2="172.8"/>
<line x1="501.0" y1="188.8" x2="517.0" y2="172.8"/>
<line x1="504.0" y1="188.8" x2="520.0" y2="172.8"/>
<line x1="507.0" y1="188.8" x2="523.0" y2="172.8"/>
<line x1="510.0" y1="188.8" x2="526.0" y2="172.8"/>
<line x1="513.0" y1="188.8" x2="529.0" y2="172.8"/>
<line x1="516.0" y1="188.8" x2="532.0" y2="172.8"/>
<line x1="519.0" y1="188.8" x2="535.0" y2="172.8"/>
<line x1="522.0" y1="188.8" x2="538.0" y2="172.8"/>
<line x1="525.0" y1="188.8" x2="541.0" y2="172.8"/>
<line x1="528.0" y1="188.8" x2="544.0" y2="172.8"/>
<line x1="531.0" y1="188.8" x2="547.0" y2="172.8"/>
</g>
<rect x="510.4" y="175.2" width="9" height="11.2" fill="none" stroke="#1d1d1b" stroke-width="0.85"/>
<line x1="477.0" y1="180.5" x2="530.0" y2="180.5" stroke="#1d1d1b" stroke-width="0.73" stroke-dasharray="5,1.5,1.5,1.5"/>
<line x1="498.5" y1="160.0" x2="498.5" y2="202.0" stroke="#1d1d1b" stroke-width="0.73" stroke-dasharray="5,1.5,1.5,1.5"/>
<line x1="452.2" y1="164.5" x2="490.5" y2="164.5" stroke="#1d1d1b" stroke-width="1.10"/>
<line x1="452.2" y1="197.5" x2="490.5" y2="197.5" stroke="#1d1d1b" stroke-width="1.10"/>
<line x1="454.5" y1="164.2" x2="454.5" y2="197.6" stroke="#1d1d1b" stroke-width="1.10"/>
<path d="M454.5,164.2 L456.4,171.2 L452.6,171.2 Z" fill="#1d1d1b"/>
<path d="M454.5,197.6 L452.6,190.6 L456.4,190.6 Z" fill="#1d1d1b"/>
<text x="450.5" y="181.3" font-size="11.5" text-anchor="middle" fill="#1d1d1b" font-weight="bold" transform="rotate(-90 450.5 181.3)">d</text>
<line x1="481.5" y1="185.7" x2="481.5" y2="222.7" stroke="#1d1d1b" stroke-width="1.10"/>
<line x1="519.5" y1="188.4" x2="519.5" y2="222.7" stroke="#1d1d1b" stroke-width="1.10"/>
<line x1="481.1" y1="221.5" x2="519.4" y2="221.5" stroke="#1d1d1b" stroke-width="1.10"/>
<path d="M481.1,221.5 L488.1,219.6 L488.1,223.4 Z" fill="#1d1d1b"/>
<path d="M519.4,221.5 L512.4,223.4 L512.4,219.6 Z" fill="#1d1d1b"/>
<text x="500.5" y="218" font-size="11.5" text-anchor="middle" fill="#1d1d1b" font-weight="bold">t</text>
<line x1="519.4" y1="175.5" x2="530.2" y2="175.5" stroke="#1d1d1b" stroke-width="1.10"/>
<line x1="519.4" y1="186.5" x2="530.2" y2="186.5" stroke="#1d1d1b" stroke-width="1.10"/>
<line x1="527.5" y1="154.1" x2="527.5" y2="198.5" stroke="#1d1d1b" stroke-width="1.10"/>
<path d="M527.5,175.2 L525.5,168.2 L529.5,168.2 Z" fill="#1d1d1b"/>
<path d="M527.5,186.4 L529.5,193.4 L525.5,193.4 Z" fill="#1d1d1b"/>
<text x="525.3" y="160.8" font-size="11.5" text-anchor="middle" fill="#1d1d1b" font-weight="bold" transform="rotate(-90 525.3 160.8)">u</text>
<path d="M687.4,206.1 L677.0,244.6 L701.4,244.6 L711.0,235.8 Z" fill="url(#gLeg)" stroke="#1d1d1b" stroke-width="0.98" />
<line x1="689.2" y1="210.5" x2="682.2" y2="244.5" stroke="#1d1d1b" stroke-width="0.61"/>
<path d="M807.7,214.9 L812.9,244.6 L788.5,244.6 L783.3,239.3 Z" fill="url(#gLeg)" stroke="#1d1d1b" stroke-width="0.98" />
<line x1="804.2" y1="220.0" x2="808.6" y2="244.5" stroke="#1d1d1b" stroke-width="0.61"/>
<path d="M717.9,241.9 L772.0,241.9 L774.6,251.5 L715.0,251.5 Z" fill="url(#gBase)" stroke="#1d1d1b" stroke-width="0.98" />
<rect x="676.6" y="244.5" width="25.6" height="7" rx="1" fill="#4a80b8" stroke="#1d1d1b" stroke-width="0.98"/>
<rect x="787.6" y="244.5" width="25.7" height="7" rx="1" fill="#4a80b8" stroke="#1d1d1b" stroke-width="0.98"/>
<line x1="686.5" y1="244.5" x2="686.5" y2="251.5" stroke="#1d1d1b" stroke-width="0.61"/>
<line x1="689.5" y1="244.5" x2="689.5" y2="251.5" stroke="#1d1d1b" stroke-width="0.61"/>
<line x1="692.5" y1="244.5" x2="692.5" y2="251.5" stroke="#1d1d1b" stroke-width="0.61"/>
<line x1="797.5" y1="244.5" x2="797.5" y2="251.5" stroke="#1d1d1b" stroke-width="0.61"/>
<line x1="800.5" y1="244.5" x2="800.5" y2="251.5" stroke="#1d1d1b" stroke-width="0.61"/>
<line x1="803.5" y1="244.5" x2="803.5" y2="251.5" stroke="#1d1d1b" stroke-width="0.61"/>
<path d="M786.5,114.6 L803.5,114.6 L804.5,131.0 L795.0,131.0 Z" fill="#487eb2" stroke="#1d1d1b" stroke-width="0.85" />
<rect x="790.4" y="105.5" width="9.2" height="9.8" fill="url(#gGold)" stroke="#6b5a3a" stroke-width="0.61"/>
<line x1="795.5" y1="105.5" x2="795.5" y2="115.3" stroke="#6b5a3a" stroke-width="0.61"/>
<clipPath id="volclip"><path d="M716.6,91.1 C717.4,93.3 719.7,99.8 721.1,104.1 C722.5,108.4 724.6,113.9 725.1,117.2 C725.6,120.5 724.8,122.0 724.4,123.8 C724.0,125.5 722.8,127.0 722.5,127.7 C720.8,128.6 715.3,131.0 712.0,132.9 C708.7,134.8 705.4,136.9 702.8,139.4 C700.2,141.9 698.6,144.2 696.3,148.0 C694.0,151.8 691.0,156.7 689.0,162.0 C687.0,167.3 685.0,174.2 684.6,180.0 C684.2,185.8 685.3,191.7 686.5,197.0 C687.7,202.3 689.8,207.2 692.0,212.0 C694.2,216.8 696.4,221.8 700.0,226.0 C703.6,230.2 707.6,234.0 713.6,237.5 C719.6,241.0 728.4,245.7 736.2,247.1 C744.0,248.5 753.6,247.5 760.6,246.2 C767.6,244.9 772.2,242.2 778.0,239.3 C783.8,236.4 790.3,233.2 795.5,228.8 C800.7,224.4 805.8,218.3 809.4,213.1 C813.0,207.9 815.6,202.9 817.3,197.4 C819.0,191.9 819.3,185.7 819.5,180.0 C819.7,174.3 819.2,168.3 818.5,163.0 C817.8,157.7 816.6,152.6 815.0,148.0 C813.4,143.4 809.8,137.6 808.7,135.5 L786.5,114.6 L773.4,101.5 L774.7,91.1 Z"/></clipPath>
<filter id="blur6" x="-50%" y="-50%" width="200%" height="200%"><feGaussianBlur stdDeviation="6"/></filter>
<filter id="blur4" x="-50%" y="-50%" width="200%" height="200%"><feGaussianBlur stdDeviation="4"/></filter>
<path d="M716.6,91.1 C717.4,93.3 719.7,99.8 721.1,104.1 C722.5,108.4 724.6,113.9 725.1,117.2 C725.6,120.5 724.8,122.0 724.4,123.8 C724.0,125.5 722.8,127.0 722.5,127.7 C720.8,128.6 715.3,131.0 712.0,132.9 C708.7,134.8 705.4,136.9 702.8,139.4 C700.2,141.9 698.6,144.2 696.3,148.0 C694.0,151.8 691.0,156.7 689.0,162.0 C687.0,167.3 685.0,174.2 684.6,180.0 C684.2,185.8 685.3,191.7 686.5,197.0 C687.7,202.3 689.8,207.2 692.0,212.0 C694.2,216.8 696.4,221.8 700.0,226.0 C703.6,230.2 707.6,234.0 713.6,237.5 C719.6,241.0 728.4,245.7 736.2,247.1 C744.0,248.5 753.6,247.5 760.6,246.2 C767.6,244.9 772.2,242.2 778.0,239.3 C783.8,236.4 790.3,233.2 795.5,228.8 C800.7,224.4 805.8,218.3 809.4,213.1 C813.0,207.9 815.6,202.9 817.3,197.4 C819.0,191.9 819.3,185.7 819.5,180.0 C819.7,174.3 819.2,168.3 818.5,163.0 C817.8,157.7 816.6,152.6 815.0,148.0 C813.4,143.4 809.8,137.6 808.7,135.5 L786.5,114.6 L773.4,101.5 L774.7,91.1 Z" fill="#4577b0" stroke="#1d1d1b" stroke-width="0.00" />
<g clip-path="url(#volclip)">
<ellipse cx="694" cy="212" rx="13" ry="30" transform="rotate(-30 694 212)" fill="#8db2dc" opacity="0.75" filter="url(#blur6)"/>
<ellipse cx="821" cy="178" rx="7" ry="34" fill="#7fa8d7" opacity="0.6" filter="url(#blur4)"/>
<ellipse cx="760" cy="250" rx="32" ry="7" fill="#7fa8d7" opacity="0.45" filter="url(#blur4)"/>
<ellipse cx="800" cy="122" rx="10" ry="14" fill="#6a97cb" opacity="0.35" filter="url(#blur4)"/>
</g>
<path d="M716.6,91.1 C717.4,93.3 719.7,99.8 721.1,104.1 C722.5,108.4 724.6,113.9 725.1,117.2 C725.6,120.5 724.8,122.0 724.4,123.8 C724.0,125.5 722.8,127.0 722.5,127.7 C720.8,128.6 715.3,131.0 712.0,132.9 C708.7,134.8 705.4,136.9 702.8,139.4 C700.2,141.9 698.6,144.2 696.3,148.0 C694.0,151.8 691.0,156.7 689.0,162.0 C687.0,167.3 685.0,174.2 684.6,180.0 C684.2,185.8 685.3,191.7 686.5,197.0 C687.7,202.3 689.8,207.2 692.0,212.0 C694.2,216.8 696.4,221.8 700.0,226.0 C703.6,230.2 707.6,234.0 713.6,237.5 C719.6,241.0 728.4,245.7 736.2,247.1 C744.0,248.5 753.6,247.5 760.6,246.2 C767.6,244.9 772.2,242.2 778.0,239.3 C783.8,236.4 790.3,233.2 795.5,228.8 C800.7,224.4 805.8,218.3 809.4,213.1 C813.0,207.9 815.6,202.9 817.3,197.4 C819.0,191.9 819.3,185.7 819.5,180.0 C819.7,174.3 819.2,168.3 818.5,163.0 C817.8,157.7 816.6,152.6 815.0,148.0 C813.4,143.4 809.8,137.6 808.7,135.5 L786.5,114.6 L773.4,101.5 L774.7,91.1 Z" fill="none" stroke="#1d1d1b" stroke-width="1.10" />
<path d="M728.3,91.1 C729.1,93.9 731.0,103.1 732.9,108.1 C734.8,113.1 737.2,117.8 739.4,121.1 C741.6,124.4 744.9,126.6 746.0,127.7 L734.2,127.7 C732.4,127.8 725.0,128.2 723.1,128.3" fill="none" stroke="#1d1d1b" stroke-width="0.98" />
<path d="M761.7,91.1 C762.8,92.2 766.2,95.9 768.2,97.6 C770.2,99.3 772.5,100.8 773.4,101.5" fill="none" stroke="#1d1d1b" stroke-width="0.73" />
<path d="M765.5,91.1 C766.2,92.0 768.5,95.0 770.0,96.5 C771.5,98.0 773.8,99.4 774.5,100.0" fill="none" stroke="#1d1d1b" stroke-width="0.61" />
<path d="M711,134.5 Q716,130 723,129.5 L718.5,134 Z" fill="#6a97c9" stroke="#1d1d1b" stroke-width="0.61" />
<path d="M718,139 Q721,134 727,131.5 L722.5,136.5 Z" fill="#6a97c9" stroke="#1d1d1b" stroke-width="0.61" />
<rect x="737.1" y="231.4" width="14.8" height="15.7" rx="5" fill="#4a80b8" stroke="#1d1d1b" stroke-width="0.98"/>
<circle cx="744.9" cy="240.1" r="4.8" fill="url(#gGold)" stroke="#1d1d1b" stroke-width="0.73"/>
<circle cx="744.9" cy="180.1" r="43.9" fill="#4274ad" stroke="#1d1d1b" stroke-width="0.98"/>
<circle cx="744.9" cy="180.1" r="30.4" fill="none" stroke="#1d1d1b" stroke-width="0.98"/>
<circle cx="778.0" cy="193.8" r="3.4" fill="none" stroke="#1d1d1b" stroke-width="0.73"/>
<circle cx="758.6" cy="213.2" r="3.4" fill="none" stroke="#1d1d1b" stroke-width="0.73"/>
<circle cx="731.2" cy="213.2" r="3.4" fill="none" stroke="#1d1d1b" stroke-width="0.73"/>
<circle cx="711.8" cy="193.8" r="3.4" fill="none" stroke="#1d1d1b" stroke-width="0.73"/>
<circle cx="711.8" cy="166.4" r="3.4" fill="none" stroke="#1d1d1b" stroke-width="0.73"/>
<circle cx="731.2" cy="147.0" r="3.4" fill="none" stroke="#1d1d1b" stroke-width="0.73"/>
<circle cx="758.6" cy="147.0" r="3.4" fill="none" stroke="#1d1d1b" stroke-width="0.73"/>
<circle cx="778.0" cy="166.4" r="3.4" fill="none" stroke="#1d1d1b" stroke-width="0.73"/>
<circle cx="744.9" cy="180.1" r="20.3" fill="#cfcfcf" stroke="#1d1d1b" stroke-width="0.85"/>
<circle cx="744.9" cy="180.1" r="18.6" fill="#e6e6e6" stroke="#555" stroke-width="0.61"/>
<rect x="705.2" y="81.9" width="79.7" height="9.2" rx="1.6" fill="url(#gRFl)" stroke="#1d1d1b" stroke-width="0.98"/>
<line x1="678.0" y1="180.5" x2="845.0" y2="180.5" stroke="#1d1d1b" stroke-width="1.10" stroke-dasharray="12,2,2,2"/>
<line x1="720.0" y1="80.5" x2="846.0" y2="80.5" stroke="#1d1d1b" stroke-width="1.10"/>
<line x1="813.6" y1="252.5" x2="846.3" y2="252.5" stroke="#1d1d1b" stroke-width="1.10"/>
<line x1="842.5" y1="80.5" x2="842.5" y2="251.8" stroke="#1d1d1b" stroke-width="1.10"/>
<path d="M842.5,80.5 L844.5,87.5 L840.5,87.5 Z" fill="#1d1d1b"/>
<path d="M842.5,180.1 L840.5,173.1 L844.5,173.1 Z" fill="#1d1d1b"/>
<path d="M842.5,180.1 L844.5,187.1 L840.5,187.1 Z" fill="#1d1d1b"/>
<path d="M842.5,251.8 L840.5,244.8 L844.5,244.8 Z" fill="#1d1d1b"/>
<text x="838.9" y="129.3" font-size="11.5" text-anchor="middle" fill="#1d1d1b" font-weight="bold" transform="rotate(-90 838.9 129.3)">h2</text>
<text x="838.9" y="217" font-size="11.5" text-anchor="middle" fill="#1d1d1b" font-weight="bold" transform="rotate(-90 838.9 217)">h1</text>
<line x1="676.5" y1="251.8" x2="676.5" y2="323.7" stroke="#1d1d1b" stroke-width="1.10"/>
<line x1="813.5" y1="251.8" x2="813.5" y2="323.7" stroke="#1d1d1b" stroke-width="1.10"/>
<line x1="689.5" y1="238.0" x2="689.5" y2="308.0" stroke="#1d1d1b" stroke-width="0.85" stroke-dasharray="6,1.5"/>
<line x1="800.5" y1="238.0" x2="800.5" y2="308.0" stroke="#1d1d1b" stroke-width="0.85" stroke-dasharray="6,1.5"/>
<line x1="686.5" y1="251.6" x2="686.5" y2="266.0" stroke="#1d1d1b" stroke-width="1.10"/>
<line x1="692.5" y1="251.6" x2="692.5" y2="266.0" stroke="#1d1d1b" stroke-width="1.10"/>
<line x1="720.5" y1="251.0" x2="720.5" y2="280.0" stroke="#1d1d1b" stroke-width="1.10"/>
<line x1="725.5" y1="251.0" x2="725.5" y2="280.0" stroke="#1d1d1b" stroke-width="1.10"/>
<line x1="722.5" y1="251.0" x2="722.5" y2="296.0" stroke="#1d1d1b" stroke-width="1.10" stroke-dasharray="11,2,2,2"/>
<line x1="766.5" y1="249.0" x2="766.5" y2="295.0" stroke="#1d1d1b" stroke-width="1.10" stroke-dasharray="11,2,2,2"/>
<line x1="787.5" y1="251.6" x2="787.5" y2="266.0" stroke="#1d1d1b" stroke-width="1.10"/>
<line x1="673.0" y1="263.5" x2="713.4" y2="263.5" stroke="#1d1d1b" stroke-width="1.10"/>
<path d="M686.4,263.5 L679.4,265.4 L679.4,261.6 Z" fill="#1d1d1b"/>
<path d="M692.4,263.5 L699.4,261.6 L699.4,265.4 Z" fill="#1d1d1b"/>
<text x="706" y="260.9" font-size="11.5" text-anchor="middle" fill="#1d1d1b" font-weight="bold" textLength="11" lengthAdjust="spacingAndGlyphs">S1</text>
<line x1="766.8" y1="263.5" x2="824.5" y2="263.5" stroke="#1d1d1b" stroke-width="1.10"/>
<path d="M787.5,263.5 L780.5,265.4 L780.5,261.6 Z" fill="#1d1d1b"/>
<path d="M813.6,263.5 L820.6,261.6 L820.6,265.4 Z" fill="#1d1d1b"/>
<text x="774.5" y="261" font-size="11.5" text-anchor="middle" fill="#1d1d1b" font-weight="bold">b</text>
<line x1="706.2" y1="277.5" x2="747.1" y2="277.5" stroke="#1d1d1b" stroke-width="1.10"/>
<path d="M720.4,277.5 L713.4,279.4 L713.4,275.6 Z" fill="#1d1d1b"/>
<path d="M725.3,277.5 L732.3,275.6 L732.3,279.4 Z" fill="#1d1d1b"/>
<text x="740.4" y="273.9" font-size="11.5" text-anchor="middle" fill="#1d1d1b" font-weight="bold" textLength="12.3" lengthAdjust="spacingAndGlyphs">S2</text>
<line x1="722.8" y1="292.5" x2="766.8" y2="292.5" stroke="#1d1d1b" stroke-width="1.10"/>
<path d="M722.8,292.5 L729.8,290.6 L729.8,294.4 Z" fill="#1d1d1b"/>
<path d="M766.8,292.5 L759.8,294.4 L759.8,290.6 Z" fill="#1d1d1b"/>
<text x="745.3" y="290" font-size="11.5" text-anchor="middle" fill="#1d1d1b" font-weight="bold" textLength="16.6" lengthAdjust="spacingAndGlyphs">110</text>
<line x1="689.0" y1="305.5" x2="800.5" y2="305.5" stroke="#1d1d1b" stroke-width="1.10"/>
<path d="M689.0,305.5 L696.0,303.6 L696.0,307.4 Z" fill="#1d1d1b"/>
<path d="M800.5,305.5 L793.5,307.4 L793.5,303.6 Z" fill="#1d1d1b"/>
<text x="745.5" y="303.4" font-size="11.5" text-anchor="middle" fill="#1d1d1b" font-weight="bold" textLength="12.8" lengthAdjust="spacingAndGlyphs">n2</text>
<line x1="676.3" y1="321.5" x2="813.6" y2="321.5" stroke="#1d1d1b" stroke-width="1.10"/>
<path d="M676.3,321.5 L683.3,319.6 L683.3,323.4 Z" fill="#1d1d1b"/>
<path d="M813.6,321.5 L806.6,323.4 L806.6,319.6 Z" fill="#1d1d1b"/>
<text x="745.2" y="319.3" font-size="11.5" text-anchor="middle" fill="#1d1d1b" font-weight="bold" textLength="11.2" lengthAdjust="spacingAndGlyphs">n1</text>
<line x1="55" y1="402.5" x2="151" y2="402.5" stroke="#8b8d91" stroke-width="1" />
<line x1="55" y1="417.5" x2="151" y2="417.5" stroke="#8b8d91" stroke-width="1" />
<line x1="55" y1="433.5" x2="151" y2="433.5" stroke="#8b8d91" stroke-width="1" />
<line x1="55" y1="448.5" x2="151" y2="448.5" stroke="#8b8d91" stroke-width="1" />
<line x1="55" y1="463.5" x2="151" y2="463.5" stroke="#8b8d91" stroke-width="1" />
<line x1="55" y1="478.5" x2="151" y2="478.5" stroke="#8b8d91" stroke-width="1" />
<line x1="55" y1="493.5" x2="151" y2="493.5" stroke="#8b8d91" stroke-width="1" />
<line x1="55" y1="508.5" x2="151" y2="508.5" stroke="#8b8d91" stroke-width="1" />
<line x1="55" y1="523.5" x2="151" y2="523.5" stroke="#8b8d91" stroke-width="1" />
<line x1="55" y1="539.5" x2="151" y2="539.5" stroke="#8b8d91" stroke-width="1" />
<line x1="55" y1="554.5" x2="151" y2="554.5" stroke="#8b8d91" stroke-width="1" />
<line x1="55" y1="569.5" x2="151" y2="569.5" stroke="#8b8d91" stroke-width="1" />
<line x1="55" y1="584.5" x2="151" y2="584.5" stroke="#8b8d91" stroke-width="1" />
<line x1="55" y1="599.5" x2="151" y2="599.5" stroke="#8b8d91" stroke-width="1" />
<line x1="55" y1="615.5" x2="151" y2="615.5" stroke="#8b8d91" stroke-width="1" />
<line x1="55" y1="630.5" x2="151" y2="630.5" stroke="#8b8d91" stroke-width="1" />
<line x1="55" y1="645.5" x2="151" y2="645.5" stroke="#8b8d91" stroke-width="1" />
<line x1="55" y1="660.5" x2="151" y2="660.5" stroke="#8b8d91" stroke-width="1" />
<line x1="55" y1="675.5" x2="151" y2="675.5" stroke="#8b8d91" stroke-width="1" />
<line x1="55" y1="690.5" x2="151" y2="690.5" stroke="#8b8d91" stroke-width="1" />
<line x1="55" y1="705.5" x2="151" y2="705.5" stroke="#8b8d91" stroke-width="1" />
<line x1="151" y1="448.5" x2="190.5" y2="448.5" stroke="#8b8d91" stroke-width="1" />
<line x1="151" y1="508.5" x2="190.5" y2="508.5" stroke="#8b8d91" stroke-width="1" />
<line x1="151" y1="569.5" x2="190.5" y2="569.5" stroke="#8b8d91" stroke-width="1" />
<line x1="151" y1="630.5" x2="190.5" y2="630.5" stroke="#8b8d91" stroke-width="1" />
<line x1="151" y1="675.5" x2="190.5" y2="675.5" stroke="#8b8d91" stroke-width="1" />
<line x1="190.5" y1="448.5" x2="229" y2="448.5" stroke="#8b8d91" stroke-width="1" />
<line x1="190.5" y1="508.5" x2="229" y2="508.5" stroke="#8b8d91" stroke-width="1" />
<line x1="190.5" y1="569.5" x2="229" y2="569.5" stroke="#8b8d91" stroke-width="1" />
<line x1="190.5" y1="630.5" x2="229" y2="630.5" stroke="#8b8d91" stroke-width="1" />
<line x1="190.5" y1="675.5" x2="229" y2="675.5" stroke="#8b8d91" stroke-width="1" />
<line x1="229" y1="433.5" x2="270.0" y2="433.5" stroke="#8b8d91" stroke-width="1" />
<line x1="229" y1="448.5" x2="270.0" y2="448.5" stroke="#8b8d91" stroke-width="1" />
<line x1="229" y1="478.5" x2="270.0" y2="478.5" stroke="#8b8d91" stroke-width="1" />
<line x1="229" y1="630.5" x2="270.0" y2="630.5" stroke="#8b8d91" stroke-width="1" />
<line x1="229" y1="705.5" x2="270.0" y2="705.5" stroke="#8b8d91" stroke-width="1" />
<line x1="268.5" y1="615.5" x2="308.5" y2="615.5" stroke="#8b8d91" stroke-width="1" />
<line x1="268.5" y1="630.5" x2="308.5" y2="630.5" stroke="#8b8d91" stroke-width="1" />
<line x1="268.5" y1="645.5" x2="308.5" y2="645.5" stroke="#8b8d91" stroke-width="1" />
<line x1="268.5" y1="675.5" x2="308.5" y2="675.5" stroke="#8b8d91" stroke-width="1" />
<line x1="268.5" y1="690.5" x2="308.5" y2="690.5" stroke="#8b8d91" stroke-width="1" />
<line x1="308.5" y1="402.5" x2="347.5" y2="402.5" stroke="#8b8d91" stroke-width="1" />
<line x1="308.5" y1="417.5" x2="347.5" y2="417.5" stroke="#8b8d91" stroke-width="1" />
<line x1="308.5" y1="433.5" x2="347.5" y2="433.5" stroke="#8b8d91" stroke-width="1" />
<line x1="308.5" y1="448.5" x2="347.5" y2="448.5" stroke="#8b8d91" stroke-width="1" />
<line x1="308.5" y1="463.5" x2="347.5" y2="463.5" stroke="#8b8d91" stroke-width="1" />
<line x1="308.5" y1="478.5" x2="347.5" y2="478.5" stroke="#8b8d91" stroke-width="1" />
<line x1="308.5" y1="493.5" x2="347.5" y2="493.5" stroke="#8b8d91" stroke-width="1" />
<line x1="308.5" y1="508.5" x2="347.5" y2="508.5" stroke="#8b8d91" stroke-width="1" />
<line x1="308.5" y1="523.5" x2="347.5" y2="523.5" stroke="#8b8d91" stroke-width="1" />
<line x1="308.5" y1="539.5" x2="347.5" y2="539.5" stroke="#8b8d91" stroke-width="1" />
<line x1="308.5" y1="554.5" x2="347.5" y2="554.5" stroke="#8b8d91" stroke-width="1" />
<line x1="308.5" y1="569.5" x2="347.5" y2="569.5" stroke="#8b8d91" stroke-width="1" />
<line x1="308.5" y1="584.5" x2="347.5" y2="584.5" stroke="#8b8d91" stroke-width="1" />
<line x1="308.5" y1="599.5" x2="347.5" y2="599.5" stroke="#8b8d91" stroke-width="1" />
<line x1="308.5" y1="615.5" x2="347.5" y2="615.5" stroke="#8b8d91" stroke-width="1" />
<line x1="308.5" y1="630.5" x2="347.5" y2="630.5" stroke="#8b8d91" stroke-width="1" />
<line x1="308.5" y1="645.5" x2="347.5" y2="645.5" stroke="#8b8d91" stroke-width="1" />
<line x1="308.5" y1="660.5" x2="347.5" y2="660.5" stroke="#8b8d91" stroke-width="1" />
<line x1="308.5" y1="675.5" x2="347.5" y2="675.5" stroke="#8b8d91" stroke-width="1" />
<line x1="308.5" y1="690.5" x2="347.5" y2="690.5" stroke="#8b8d91" stroke-width="1" />
<line x1="308.5" y1="705.5" x2="347.5" y2="705.5" stroke="#8b8d91" stroke-width="1" />
<line x1="347.5" y1="402.5" x2="387.5" y2="402.5" stroke="#8b8d91" stroke-width="1" />
<line x1="347.5" y1="417.5" x2="387.5" y2="417.5" stroke="#8b8d91" stroke-width="1" />
<line x1="347.5" y1="433.5" x2="387.5" y2="433.5" stroke="#8b8d91" stroke-width="1" />
<line x1="347.5" y1="448.5" x2="387.5" y2="448.5" stroke="#8b8d91" stroke-width="1" />
<line x1="347.5" y1="463.5" x2="387.5" y2="463.5" stroke="#8b8d91" stroke-width="1" />
<line x1="347.5" y1="478.5" x2="387.5" y2="478.5" stroke="#8b8d91" stroke-width="1" />
<line x1="347.5" y1="493.5" x2="387.5" y2="493.5" stroke="#8b8d91" stroke-width="1" />
<line x1="347.5" y1="508.5" x2="387.5" y2="508.5" stroke="#8b8d91" stroke-width="1" />
<line x1="347.5" y1="523.5" x2="387.5" y2="523.5" stroke="#8b8d91" stroke-width="1" />
<line x1="347.5" y1="539.5" x2="387.5" y2="539.5" stroke="#8b8d91" stroke-width="1" />
<line x1="347.5" y1="554.5" x2="387.5" y2="554.5" stroke="#8b8d91" stroke-width="1" />
<line x1="347.5" y1="569.5" x2="387.5" y2="569.5" stroke="#8b8d91" stroke-width="1" />
<line x1="347.5" y1="584.5" x2="387.5" y2="584.5" stroke="#8b8d91" stroke-width="1" />
<line x1="347.5" y1="599.5" x2="387.5" y2="599.5" stroke="#8b8d91" stroke-width="1" />
<line x1="347.5" y1="615.5" x2="387.5" y2="615.5" stroke="#8b8d91" stroke-width="1" />
<line x1="347.5" y1="630.5" x2="387.5" y2="630.5" stroke="#8b8d91" stroke-width="1" />
<line x1="347.5" y1="645.5" x2="387.5" y2="645.5" stroke="#8b8d91" stroke-width="1" />
<line x1="347.5" y1="660.5" x2="387.5" y2="660.5" stroke="#8b8d91" stroke-width="1" />
<line x1="347.5" y1="675.5" x2="387.5" y2="675.5" stroke="#8b8d91" stroke-width="1" />
<line x1="347.5" y1="690.5" x2="387.5" y2="690.5" stroke="#8b8d91" stroke-width="1" />
<line x1="347.5" y1="705.5" x2="387.5" y2="705.5" stroke="#8b8d91" stroke-width="1" />
<line x1="387.5" y1="402.5" x2="426.5" y2="402.5" stroke="#8b8d91" stroke-width="1" />
<line x1="387.5" y1="417.5" x2="426.5" y2="417.5" stroke="#8b8d91" stroke-width="1" />
<line x1="387.5" y1="433.5" x2="426.5" y2="433.5" stroke="#8b8d91" stroke-width="1" />
<line x1="387.5" y1="448.5" x2="426.5" y2="448.5" stroke="#8b8d91" stroke-width="1" />
<line x1="387.5" y1="478.5" x2="426.5" y2="478.5" stroke="#8b8d91" stroke-width="1" />
<line x1="387.5" y1="493.5" x2="426.5" y2="493.5" stroke="#8b8d91" stroke-width="1" />
<line x1="387.5" y1="508.5" x2="426.5" y2="508.5" stroke="#8b8d91" stroke-width="1" />
<line x1="387.5" y1="523.5" x2="426.5" y2="523.5" stroke="#8b8d91" stroke-width="1" />
<line x1="387.5" y1="539.5" x2="426.5" y2="539.5" stroke="#8b8d91" stroke-width="1" />
<line x1="387.5" y1="554.5" x2="426.5" y2="554.5" stroke="#8b8d91" stroke-width="1" />
<line x1="387.5" y1="569.5" x2="426.5" y2="569.5" stroke="#8b8d91" stroke-width="1" />
<line x1="387.5" y1="584.5" x2="426.5" y2="584.5" stroke="#8b8d91" stroke-width="1" />
<line x1="387.5" y1="599.5" x2="426.5" y2="599.5" stroke="#8b8d91" stroke-width="1" />
<line x1="387.5" y1="615.5" x2="426.5" y2="615.5" stroke="#8b8d91" stroke-width="1" />
<line x1="387.5" y1="630.5" x2="426.5" y2="630.5" stroke="#8b8d91" stroke-width="1" />
<line x1="387.5" y1="645.5" x2="426.5" y2="645.5" stroke="#8b8d91" stroke-width="1" />
<line x1="387.5" y1="660.5" x2="426.5" y2="660.5" stroke="#8b8d91" stroke-width="1" />
<line x1="387.5" y1="675.5" x2="426.5" y2="675.5" stroke="#8b8d91" stroke-width="1" />
<line x1="387.5" y1="690.5" x2="426.5" y2="690.5" stroke="#8b8d91" stroke-width="1" />
<line x1="387.5" y1="705.5" x2="426.5" y2="705.5" stroke="#8b8d91" stroke-width="1" />
<line x1="426.5" y1="402.5" x2="465.5" y2="402.5" stroke="#8b8d91" stroke-width="1" />
<line x1="426.5" y1="433.5" x2="465.5" y2="433.5" stroke="#8b8d91" stroke-width="1" />
<line x1="426.5" y1="448.5" x2="465.5" y2="448.5" stroke="#8b8d91" stroke-width="1" />
<line x1="426.5" y1="493.5" x2="465.5" y2="493.5" stroke="#8b8d91" stroke-width="1" />
<line x1="426.5" y1="508.5" x2="465.5" y2="508.5" stroke="#8b8d91" stroke-width="1" />
<line x1="426.5" y1="554.5" x2="465.5" y2="554.5" stroke="#8b8d91" stroke-width="1" />
<line x1="426.5" y1="615.5" x2="465.5" y2="615.5" stroke="#8b8d91" stroke-width="1" />
<line x1="426.5" y1="630.5" x2="465.5" y2="630.5" stroke="#8b8d91" stroke-width="1" />
<line x1="426.5" y1="660.5" x2="465.5" y2="660.5" stroke="#8b8d91" stroke-width="1" />
<line x1="465.5" y1="433.5" x2="505.5" y2="433.5" stroke="#8b8d91" stroke-width="1" />
<line x1="465.5" y1="448.5" x2="505.5" y2="448.5" stroke="#8b8d91" stroke-width="1" />
<line x1="465.5" y1="493.5" x2="505.5" y2="493.5" stroke="#8b8d91" stroke-width="1" />
<line x1="465.5" y1="508.5" x2="505.5" y2="508.5" stroke="#8b8d91" stroke-width="1" />
<line x1="465.5" y1="554.5" x2="505.5" y2="554.5" stroke="#8b8d91" stroke-width="1" />
<line x1="465.5" y1="615.5" x2="505.5" y2="615.5" stroke="#8b8d91" stroke-width="1" />
<line x1="465.5" y1="630.5" x2="505.5" y2="630.5" stroke="#8b8d91" stroke-width="1" />
<line x1="465.5" y1="660.5" x2="505.5" y2="660.5" stroke="#8b8d91" stroke-width="1" />
<line x1="505.5" y1="433.5" x2="544.5" y2="433.5" stroke="#8b8d91" stroke-width="1" />
<line x1="505.5" y1="448.5" x2="544.5" y2="448.5" stroke="#8b8d91" stroke-width="1" />
<line x1="505.5" y1="463.5" x2="544.5" y2="463.5" stroke="#8b8d91" stroke-width="1" />
<line x1="505.5" y1="478.5" x2="544.5" y2="478.5" stroke="#8b8d91" stroke-width="1" />
<line x1="505.5" y1="493.5" x2="544.5" y2="493.5" stroke="#8b8d91" stroke-width="1" />
<line x1="505.5" y1="508.5" x2="544.5" y2="508.5" stroke="#8b8d91" stroke-width="1" />
<line x1="505.5" y1="523.5" x2="544.5" y2="523.5" stroke="#8b8d91" stroke-width="1" />
<line x1="505.5" y1="554.5" x2="544.5" y2="554.5" stroke="#8b8d91" stroke-width="1" />
<line x1="505.5" y1="569.5" x2="544.5" y2="569.5" stroke="#8b8d91" stroke-width="1" />
<line x1="505.5" y1="599.5" x2="544.5" y2="599.5" stroke="#8b8d91" stroke-width="1" />
<line x1="505.5" y1="615.5" x2="544.5" y2="615.5" stroke="#8b8d91" stroke-width="1" />
<line x1="505.5" y1="630.5" x2="544.5" y2="630.5" stroke="#8b8d91" stroke-width="1" />
<line x1="505.5" y1="645.5" x2="544.5" y2="645.5" stroke="#8b8d91" stroke-width="1" />
<line x1="505.5" y1="660.5" x2="544.5" y2="660.5" stroke="#8b8d91" stroke-width="1" />
<line x1="505.5" y1="675.5" x2="544.5" y2="675.5" stroke="#8b8d91" stroke-width="1" />
<line x1="505.5" y1="705.5" x2="544.5" y2="705.5" stroke="#8b8d91" stroke-width="1" />
<line x1="544.5" y1="433.5" x2="584.5" y2="433.5" stroke="#8b8d91" stroke-width="1" />
<line x1="544.5" y1="448.5" x2="584.5" y2="448.5" stroke="#8b8d91" stroke-width="1" />
<line x1="544.5" y1="463.5" x2="584.5" y2="463.5" stroke="#8b8d91" stroke-width="1" />
<line x1="544.5" y1="478.5" x2="584.5" y2="478.5" stroke="#8b8d91" stroke-width="1" />
<line x1="544.5" y1="493.5" x2="584.5" y2="493.5" stroke="#8b8d91" stroke-width="1" />
<line x1="544.5" y1="508.5" x2="584.5" y2="508.5" stroke="#8b8d91" stroke-width="1" />
<line x1="544.5" y1="523.5" x2="584.5" y2="523.5" stroke="#8b8d91" stroke-width="1" />
<line x1="544.5" y1="554.5" x2="584.5" y2="554.5" stroke="#8b8d91" stroke-width="1" />
<line x1="544.5" y1="569.5" x2="584.5" y2="569.5" stroke="#8b8d91" stroke-width="1" />
<line x1="544.5" y1="599.5" x2="584.5" y2="599.5" stroke="#8b8d91" stroke-width="1" />
<line x1="544.5" y1="615.5" x2="584.5" y2="615.5" stroke="#8b8d91" stroke-width="1" />
<line x1="544.5" y1="630.5" x2="584.5" y2="630.5" stroke="#8b8d91" stroke-width="1" />
<line x1="544.5" y1="645.5" x2="584.5" y2="645.5" stroke="#8b8d91" stroke-width="1" />
<line x1="544.5" y1="660.5" x2="584.5" y2="660.5" stroke="#8b8d91" stroke-width="1" />
<line x1="544.5" y1="675.5" x2="584.5" y2="675.5" stroke="#8b8d91" stroke-width="1" />
<line x1="544.5" y1="705.5" x2="584.5" y2="705.5" stroke="#8b8d91" stroke-width="1" />
<line x1="584.5" y1="615.5" x2="623.5" y2="615.5" stroke="#8b8d91" stroke-width="1" />
<line x1="584.5" y1="630.5" x2="623.5" y2="630.5" stroke="#8b8d91" stroke-width="1" />
<line x1="584.5" y1="660.5" x2="623.5" y2="660.5" stroke="#8b8d91" stroke-width="1" />
<line x1="662.5" y1="615.5" x2="702.5" y2="615.5" stroke="#8b8d91" stroke-width="1" />
<line x1="662.5" y1="630.5" x2="702.5" y2="630.5" stroke="#8b8d91" stroke-width="1" />
<line x1="662.5" y1="645.5" x2="702.5" y2="645.5" stroke="#8b8d91" stroke-width="1" />
<line x1="662.5" y1="675.5" x2="702.5" y2="675.5" stroke="#8b8d91" stroke-width="1" />
<line x1="662.5" y1="690.5" x2="702.5" y2="690.5" stroke="#8b8d91" stroke-width="1" />
<line x1="702.5" y1="599.5" x2="741.5" y2="599.5" stroke="#8b8d91" stroke-width="1" />
<line x1="741.5" y1="615.5" x2="780.5" y2="615.5" stroke="#8b8d91" stroke-width="1" />
<line x1="741.5" y1="630.5" x2="780.5" y2="630.5" stroke="#8b8d91" stroke-width="1" />
<line x1="741.5" y1="645.5" x2="780.5" y2="645.5" stroke="#8b8d91" stroke-width="1" />
<line x1="741.5" y1="675.5" x2="780.5" y2="675.5" stroke="#8b8d91" stroke-width="1" />
<line x1="741.5" y1="690.5" x2="780.5" y2="690.5" stroke="#8b8d91" stroke-width="1" />
<line x1="780.5" y1="615.5" x2="820" y2="615.5" stroke="#8b8d91" stroke-width="1" />
<line x1="780.5" y1="630.5" x2="820" y2="630.5" stroke="#8b8d91" stroke-width="1" />
<line x1="780.5" y1="645.5" x2="820" y2="645.5" stroke="#8b8d91" stroke-width="1" />
<line x1="780.5" y1="675.5" x2="820" y2="675.5" stroke="#8b8d91" stroke-width="1" />
<line x1="780.5" y1="690.5" x2="820" y2="690.5" stroke="#8b8d91" stroke-width="1" />
<line x1="820" y1="402.5" x2="860" y2="402.5" stroke="#8b8d91" stroke-width="1" />
<line x1="820" y1="417.5" x2="860" y2="417.5" stroke="#8b8d91" stroke-width="1" />
<line x1="820" y1="433.5" x2="860" y2="433.5" stroke="#8b8d91" stroke-width="1" />
<line x1="820" y1="448.5" x2="860" y2="448.5" stroke="#8b8d91" stroke-width="1" />
<line x1="820" y1="463.5" x2="860" y2="463.5" stroke="#8b8d91" stroke-width="1" />
<line x1="820" y1="478.5" x2="860" y2="478.5" stroke="#8b8d91" stroke-width="1" />
<line x1="820" y1="493.5" x2="860" y2="493.5" stroke="#8b8d91" stroke-width="1" />
<line x1="820" y1="508.5" x2="860" y2="508.5" stroke="#8b8d91" stroke-width="1" />
<line x1="820" y1="523.5" x2="860" y2="523.5" stroke="#8b8d91" stroke-width="1" />
<line x1="820" y1="539.5" x2="860" y2="539.5" stroke="#8b8d91" stroke-width="1" />
<line x1="820" y1="554.5" x2="860" y2="554.5" stroke="#8b8d91" stroke-width="1" />
<line x1="820" y1="569.5" x2="860" y2="569.5" stroke="#8b8d91" stroke-width="1" />
<line x1="820" y1="584.5" x2="860" y2="584.5" stroke="#8b8d91" stroke-width="1" />
<line x1="820" y1="599.5" x2="860" y2="599.5" stroke="#8b8d91" stroke-width="1" />
<line x1="820" y1="615.5" x2="860" y2="615.5" stroke="#8b8d91" stroke-width="1" />
<line x1="820" y1="630.5" x2="860" y2="630.5" stroke="#8b8d91" stroke-width="1" />
<line x1="820" y1="645.5" x2="860" y2="645.5" stroke="#8b8d91" stroke-width="1" />
<line x1="820" y1="660.5" x2="860" y2="660.5" stroke="#8b8d91" stroke-width="1" />
<line x1="820" y1="675.5" x2="860" y2="675.5" stroke="#8b8d91" stroke-width="1" />
<line x1="820" y1="690.5" x2="860" y2="690.5" stroke="#8b8d91" stroke-width="1" />
<line x1="820" y1="705.5" x2="860" y2="705.5" stroke="#8b8d91" stroke-width="1" />
<line x1="190.5" y1="366" x2="190.5" y2="721" stroke="#8b8d91" stroke-width="1" />
<line x1="268.5" y1="366" x2="268.5" y2="721" stroke="#8b8d91" stroke-width="1" />
<line x1="308.5" y1="366" x2="308.5" y2="721" stroke="#8b8d91" stroke-width="1" />
<line x1="347.5" y1="366" x2="347.5" y2="721" stroke="#8b8d91" stroke-width="1" />
<line x1="387.5" y1="366" x2="387.5" y2="721" stroke="#8b8d91" stroke-width="1" />
<line x1="426.5" y1="366" x2="426.5" y2="721" stroke="#8b8d91" stroke-width="1" />
<line x1="465.5" y1="366" x2="465.5" y2="721" stroke="#8b8d91" stroke-width="1" />
<line x1="505.5" y1="366" x2="505.5" y2="721" stroke="#8b8d91" stroke-width="1" />
<line x1="544.5" y1="366" x2="544.5" y2="721" stroke="#8b8d91" stroke-width="1" />
<line x1="584.5" y1="366" x2="584.5" y2="721" stroke="#8b8d91" stroke-width="1" />
<line x1="623.5" y1="366" x2="623.5" y2="721" stroke="#8b8d91" stroke-width="1" />
<line x1="662.5" y1="366" x2="662.5" y2="721" stroke="#8b8d91" stroke-width="1" />
<line x1="702.5" y1="366" x2="702.5" y2="721" stroke="#8b8d91" stroke-width="1" />
<line x1="741.5" y1="366" x2="741.5" y2="721" stroke="#8b8d91" stroke-width="1" />
<line x1="780.5" y1="366" x2="780.5" y2="721" stroke="#8b8d91" stroke-width="1" />
<line x1="55" y1="344" x2="860" y2="344" stroke="#8b8d91" stroke-width="2" />
<line x1="55" y1="388" x2="860" y2="388" stroke="#8b8d91" stroke-width="2" />
<line x1="55" y1="721" x2="860" y2="721" stroke="#8b8d91" stroke-width="2" />
<line x1="151" y1="343" x2="151" y2="722" stroke="#8b8d91" stroke-width="2" />
<line x1="229" y1="366" x2="229" y2="722" stroke="#8b8d91" stroke-width="2" />
<line x1="820" y1="343" x2="820" y2="722" stroke="#8b8d91" stroke-width="2" />
<text x="59.5" y="399.75" font-size="11.7" text-anchor="start" fill="#1d1d1b" font-weight="bold" >FG 32/160</text>
<text x="840.0" y="399.75" font-size="11.7" text-anchor="middle" fill="#1d1d1b" font-weight="bold" >32</text>
<text x="59.5" y="414.5" font-size="11.7" text-anchor="start" fill="#1d1d1b" font-weight="bold" >FG 32/200</text>
<text x="840.0" y="414.5" font-size="11.7" text-anchor="middle" fill="#1d1d1b" font-weight="bold" >35</text>
<text x="59.5" y="430.0" font-size="11.7" text-anchor="start" fill="#1d1d1b" font-weight="bold" >FG 32/200H</text>
<text x="840.0" y="430.0" font-size="11.7" text-anchor="middle" fill="#1d1d1b" font-weight="bold" >35</text>
<text x="59.5" y="445.5" font-size="11.7" text-anchor="start" fill="#1d1d1b" font-weight="bold" >FG 32/250</text>
<text x="840.0" y="445.5" font-size="11.7" text-anchor="middle" fill="#1d1d1b" font-weight="bold" >52</text>
<text x="59.5" y="460.5" font-size="11.7" text-anchor="start" fill="#1d1d1b" font-weight="bold" >FG 40/125</text>
<text x="840.0" y="460.5" font-size="11.7" text-anchor="middle" fill="#1d1d1b" font-weight="bold" >34</text>
<text x="59.5" y="475.5" font-size="11.7" text-anchor="start" fill="#1d1d1b" font-weight="bold" >FG 40/160</text>
<text x="840.0" y="475.5" font-size="11.7" text-anchor="middle" fill="#1d1d1b" font-weight="bold" >35</text>
<text x="59.5" y="490.5" font-size="11.7" text-anchor="start" fill="#1d1d1b" font-weight="bold" >FG 40/200</text>
<text x="840.0" y="490.5" font-size="11.7" text-anchor="middle" fill="#1d1d1b" font-weight="bold" >38</text>
<text x="59.5" y="505.5" font-size="11.7" text-anchor="start" fill="#1d1d1b" font-weight="bold" >FG 40/250</text>
<text x="840.0" y="505.5" font-size="11.7" text-anchor="middle" fill="#1d1d1b" font-weight="bold" >58</text>
<text x="59.5" y="520.5" font-size="11.7" text-anchor="start" fill="#1d1d1b" font-weight="bold" >FG 50/125</text>
<text x="840.0" y="520.5" font-size="11.7" text-anchor="middle" fill="#1d1d1b" font-weight="bold" >30</text>
<text x="59.5" y="536.0" font-size="11.7" text-anchor="start" fill="#1d1d1b" font-weight="bold" >FG 50/160</text>
<text x="840.0" y="536.0" font-size="11.7" text-anchor="middle" fill="#1d1d1b" font-weight="bold" >35</text>
<text x="59.5" y="551.5" font-size="11.7" text-anchor="start" fill="#1d1d1b" font-weight="bold" >FG 50/200</text>
<text x="840.0" y="551.5" font-size="11.7" text-anchor="middle" fill="#1d1d1b" font-weight="bold" >45</text>
<text x="59.5" y="566.5" font-size="11.7" text-anchor="start" fill="#1d1d1b" font-weight="bold" >FG 50/250</text>
<text x="840.0" y="566.5" font-size="11.7" text-anchor="middle" fill="#1d1d1b" font-weight="bold" >50</text>
<text x="59.5" y="581.5" font-size="11.7" text-anchor="start" fill="#1d1d1b" font-weight="bold" >FG 65/125</text>
<text x="840.0" y="581.5" font-size="11.7" text-anchor="middle" fill="#1d1d1b" font-weight="bold" >42</text>
<text x="59.5" y="596.5" font-size="11.7" text-anchor="start" fill="#1d1d1b" font-weight="bold" >FG 65/160</text>
<text x="840.0" y="596.5" font-size="11.7" text-anchor="middle" fill="#1d1d1b" font-weight="bold" >45</text>
<text x="59.5" y="612.0" font-size="11.7" text-anchor="start" fill="#1d1d1b" font-weight="bold" >FG 65/200</text>
<text x="840.0" y="612.0" font-size="11.7" text-anchor="middle" fill="#1d1d1b" font-weight="bold" >50</text>
<text x="59.5" y="627.5" font-size="11.7" text-anchor="start" fill="#1d1d1b" font-weight="bold" >FG 65/250</text>
<text x="840.0" y="627.5" font-size="11.7" text-anchor="middle" fill="#1d1d1b" font-weight="bold" >71</text>
<text x="59.5" y="642.5" font-size="11.7" text-anchor="start" fill="#1d1d1b" font-weight="bold" >FG 80/160</text>
<text x="840.0" y="642.5" font-size="11.7" text-anchor="middle" fill="#1d1d1b" font-weight="bold" >48</text>
<text x="59.5" y="657.5" font-size="11.7" text-anchor="start" fill="#1d1d1b" font-weight="bold" >FG 80/200</text>
<text x="840.0" y="657.5" font-size="11.7" text-anchor="middle" fill="#1d1d1b" font-weight="bold" >65</text>
<text x="59.5" y="672.5" font-size="11.7" text-anchor="start" fill="#1d1d1b" font-weight="bold" >FG 80/250</text>
<text x="840.0" y="672.5" font-size="11.7" text-anchor="middle" fill="#1d1d1b" font-weight="bold" >79</text>
<text x="59.5" y="687.5" font-size="11.7" text-anchor="start" fill="#1d1d1b" font-weight="bold" >FG 100/160-N</text>
<text x="840.0" y="687.5" font-size="11.7" text-anchor="middle" fill="#1d1d1b" font-weight="bold" >62</text>
<text x="59.5" y="702.5" font-size="11.7" text-anchor="start" fill="#1d1d1b" font-weight="bold" >FG 100/200</text>
<text x="840.0" y="702.5" font-size="11.7" text-anchor="middle" fill="#1d1d1b" font-weight="bold" >75</text>
<text x="59.5" y="717.75" font-size="11.7" text-anchor="start" fill="#1d1d1b" font-weight="bold" >FG 100/250</text>
<text x="840.0" y="717.75" font-size="11.7" text-anchor="middle" fill="#1d1d1b" font-weight="bold" >88</text>
<text x="170.75" y="422.75" font-size="11.2" text-anchor="middle" fill="#1d1d1b" stroke="#1d1d1b" stroke-width="0.2" letter-spacing="-0.35" >50</text>
<text x="170.75" y="483.0" font-size="11.2" text-anchor="middle" fill="#1d1d1b" stroke="#1d1d1b" stroke-width="0.2" letter-spacing="-0.35" >65</text>
<text x="170.75" y="543.5" font-size="11.2" text-anchor="middle" fill="#1d1d1b" stroke="#1d1d1b" stroke-width="0.2" letter-spacing="-0.35" >65</text>
<text x="170.75" y="604.5" font-size="11.2" text-anchor="middle" fill="#1d1d1b" stroke="#1d1d1b" stroke-width="0.2" letter-spacing="-0.35" >80</text>
<text x="170.75" y="657.5" font-size="11.2" text-anchor="middle" fill="#1d1d1b" stroke="#1d1d1b" stroke-width="0.2" letter-spacing="-0.35" >100</text>
<text x="170.75" y="702.75" font-size="11.2" text-anchor="middle" fill="#1d1d1b" stroke="#1d1d1b" stroke-width="0.2" letter-spacing="-0.35" >125</text>
<text x="209.75" y="422.75" font-size="11.2" text-anchor="middle" fill="#1d1d1b" stroke="#1d1d1b" stroke-width="0.2" letter-spacing="-0.35" >32</text>
<text x="209.75" y="483.0" font-size="11.2" text-anchor="middle" fill="#1d1d1b" stroke="#1d1d1b" stroke-width="0.2" letter-spacing="-0.35" >40</text>
<text x="209.75" y="543.5" font-size="11.2" text-anchor="middle" fill="#1d1d1b" stroke="#1d1d1b" stroke-width="0.2" letter-spacing="-0.35" >50</text>
<text x="209.75" y="604.5" font-size="11.2" text-anchor="middle" fill="#1d1d1b" stroke="#1d1d1b" stroke-width="0.2" letter-spacing="-0.35" >65</text>
<text x="209.75" y="657.5" font-size="11.2" text-anchor="middle" fill="#1d1d1b" stroke="#1d1d1b" stroke-width="0.2" letter-spacing="-0.35" >80</text>
<text x="209.75" y="702.75" font-size="11.2" text-anchor="middle" fill="#1d1d1b" stroke="#1d1d1b" stroke-width="0.2" letter-spacing="-0.35" >100</text>
<text x="248.75" y="415.25" font-size="11.2" text-anchor="middle" fill="#1d1d1b" stroke="#1d1d1b" stroke-width="0.2" letter-spacing="-0.35" >80</text>
<text x="248.75" y="445.5" font-size="11.2" text-anchor="middle" fill="#1d1d1b" stroke="#1d1d1b" stroke-width="0.2" letter-spacing="-0.35" >100</text>
<text x="248.75" y="468.0" font-size="11.2" text-anchor="middle" fill="#1d1d1b" stroke="#1d1d1b" stroke-width="0.2" letter-spacing="-0.35" >80</text>
<text x="248.75" y="559.0" font-size="11.2" text-anchor="middle" fill="#1d1d1b" stroke="#1d1d1b" stroke-width="0.2" letter-spacing="-0.35" >100</text>
<text x="248.75" y="672.5" font-size="11.2" text-anchor="middle" fill="#1d1d1b" stroke="#1d1d1b" stroke-width="0.2" letter-spacing="-0.35" >125</text>
<text x="248.75" y="717.75" font-size="11.2" text-anchor="middle" fill="#1d1d1b" stroke="#1d1d1b" stroke-width="0.2" letter-spacing="-0.35" >140</text>
<text x="288.5" y="506.25" font-size="11.2" text-anchor="middle" fill="#1d1d1b" stroke="#1d1d1b" stroke-width="0.2" letter-spacing="-0.35" >360</text>
<text x="288.5" y="627.5" font-size="11.2" text-anchor="middle" fill="#1d1d1b" stroke="#1d1d1b" stroke-width="0.2" letter-spacing="-0.35" >470</text>
<text x="288.5" y="642.5" font-size="11.2" text-anchor="middle" fill="#1d1d1b" stroke="#1d1d1b" stroke-width="0.2" letter-spacing="-0.35" >360</text>
<text x="288.5" y="665.0" font-size="11.2" text-anchor="middle" fill="#1d1d1b" stroke="#1d1d1b" stroke-width="0.2" letter-spacing="-0.35" >470</text>
<text x="288.5" y="687.5" font-size="11.2" text-anchor="middle" fill="#1d1d1b" stroke="#1d1d1b" stroke-width="0.2" letter-spacing="-0.35" >360</text>
<text x="288.5" y="710.25" font-size="11.2" text-anchor="middle" fill="#1d1d1b" stroke="#1d1d1b" stroke-width="0.2" letter-spacing="-0.35" >470</text>
<text x="328.0" y="399.75" font-size="11.2" text-anchor="middle" fill="#1d1d1b" stroke="#1d1d1b" stroke-width="0.2" letter-spacing="-0.35" >132</text>
<text x="328.0" y="414.5" font-size="11.2" text-anchor="middle" fill="#1d1d1b" stroke="#1d1d1b" stroke-width="0.2" letter-spacing="-0.35" >160</text>
<text x="328.0" y="430.0" font-size="11.2" text-anchor="middle" fill="#1d1d1b" stroke="#1d1d1b" stroke-width="0.2" letter-spacing="-0.35" >160</text>
<text x="328.0" y="445.5" font-size="11.2" text-anchor="middle" fill="#1d1d1b" stroke="#1d1d1b" stroke-width="0.2" letter-spacing="-0.35" >180</text>
<text x="328.0" y="460.5" font-size="11.2" text-anchor="middle" fill="#1d1d1b" stroke="#1d1d1b" stroke-width="0.2" letter-spacing="-0.35" >112</text>
<text x="328.0" y="475.5" font-size="11.2" text-anchor="middle" fill="#1d1d1b" stroke="#1d1d1b" stroke-width="0.2" letter-spacing="-0.35" >132</text>
<text x="328.0" y="490.5" font-size="11.2" text-anchor="middle" fill="#1d1d1b" stroke="#1d1d1b" stroke-width="0.2" letter-spacing="-0.35" >160</text>
<text x="328.0" y="505.5" font-size="11.2" text-anchor="middle" fill="#1d1d1b" stroke="#1d1d1b" stroke-width="0.2" letter-spacing="-0.35" >180</text>
<text x="328.0" y="520.5" font-size="11.2" text-anchor="middle" fill="#1d1d1b" stroke="#1d1d1b" stroke-width="0.2" letter-spacing="-0.35" >132</text>
<text x="328.0" y="536.0" font-size="11.2" text-anchor="middle" fill="#1d1d1b" stroke="#1d1d1b" stroke-width="0.2" letter-spacing="-0.35" >160</text>
<text x="328.0" y="551.5" font-size="11.2" text-anchor="middle" fill="#1d1d1b" stroke="#1d1d1b" stroke-width="0.2" letter-spacing="-0.35" >160</text>
<text x="328.0" y="566.5" font-size="11.2" text-anchor="middle" fill="#1d1d1b" stroke="#1d1d1b" stroke-width="0.2" letter-spacing="-0.35" >180</text>
<text x="328.0" y="581.5" font-size="11.2" text-anchor="middle" fill="#1d1d1b" stroke="#1d1d1b" stroke-width="0.2" letter-spacing="-0.35" >160</text>
<text x="328.0" y="596.5" font-size="11.2" text-anchor="middle" fill="#1d1d1b" stroke="#1d1d1b" stroke-width="0.2" letter-spacing="-0.35" >160</text>
<text x="328.0" y="612.0" font-size="11.2" text-anchor="middle" fill="#1d1d1b" stroke="#1d1d1b" stroke-width="0.2" letter-spacing="-0.35" >180</text>
<text x="328.0" y="627.5" font-size="11.2" text-anchor="middle" fill="#1d1d1b" stroke="#1d1d1b" stroke-width="0.2" letter-spacing="-0.35" >200</text>
<text x="328.0" y="642.5" font-size="11.2" text-anchor="middle" fill="#1d1d1b" stroke="#1d1d1b" stroke-width="0.2" letter-spacing="-0.35" >180</text>
<text x="328.0" y="657.5" font-size="11.2" text-anchor="middle" fill="#1d1d1b" stroke="#1d1d1b" stroke-width="0.2" letter-spacing="-0.35" >180</text>
<text x="328.0" y="672.5" font-size="11.2" text-anchor="middle" fill="#1d1d1b" stroke="#1d1d1b" stroke-width="0.2" letter-spacing="-0.35" >200</text>
<text x="328.0" y="687.5" font-size="11.2" text-anchor="middle" fill="#1d1d1b" stroke="#1d1d1b" stroke-width="0.2" letter-spacing="-0.35" >200</text>
<text x="328.0" y="702.5" font-size="11.2" text-anchor="middle" fill="#1d1d1b" stroke="#1d1d1b" stroke-width="0.2" letter-spacing="-0.35" >200</text>
<text x="328.0" y="717.75" font-size="11.2" text-anchor="middle" fill="#1d1d1b" stroke="#1d1d1b" stroke-width="0.2" letter-spacing="-0.35" >225</text>
<text x="367.5" y="399.75" font-size="11.2" text-anchor="middle" fill="#1d1d1b" stroke="#1d1d1b" stroke-width="0.2" letter-spacing="-0.35" >160</text>
<text x="367.5" y="414.5" font-size="11.2" text-anchor="middle" fill="#1d1d1b" stroke="#1d1d1b" stroke-width="0.2" letter-spacing="-0.35" >180</text>
<text x="367.5" y="430.0" font-size="11.2" text-anchor="middle" fill="#1d1d1b" stroke="#1d1d1b" stroke-width="0.2" letter-spacing="-0.35" >180</text>
<text x="367.5" y="445.5" font-size="11.2" text-anchor="middle" fill="#1d1d1b" stroke="#1d1d1b" stroke-width="0.2" letter-spacing="-0.35" >225</text>
<text x="367.5" y="460.5" font-size="11.2" text-anchor="middle" fill="#1d1d1b" stroke="#1d1d1b" stroke-width="0.2" letter-spacing="-0.35" >140</text>
<text x="367.5" y="475.5" font-size="11.2" text-anchor="middle" fill="#1d1d1b" stroke="#1d1d1b" stroke-width="0.2" letter-spacing="-0.35" >160</text>
<text x="367.5" y="490.5" font-size="11.2" text-anchor="middle" fill="#1d1d1b" stroke="#1d1d1b" stroke-width="0.2" letter-spacing="-0.35" >180</text>
<text x="367.5" y="505.5" font-size="11.2" text-anchor="middle" fill="#1d1d1b" stroke="#1d1d1b" stroke-width="0.2" letter-spacing="-0.35" >225</text>
<text x="367.5" y="520.5" font-size="11.2" text-anchor="middle" fill="#1d1d1b" stroke="#1d1d1b" stroke-width="0.2" letter-spacing="-0.35" >160</text>
<text x="367.5" y="536.0" font-size="11.2" text-anchor="middle" fill="#1d1d1b" stroke="#1d1d1b" stroke-width="0.2" letter-spacing="-0.35" >180</text>
<text x="367.5" y="551.5" font-size="11.2" text-anchor="middle" fill="#1d1d1b" stroke="#1d1d1b" stroke-width="0.2" letter-spacing="-0.35" >200</text>
<text x="367.5" y="566.5" font-size="11.2" text-anchor="middle" fill="#1d1d1b" stroke="#1d1d1b" stroke-width="0.2" letter-spacing="-0.35" >225</text>
<text x="367.5" y="581.5" font-size="11.2" text-anchor="middle" fill="#1d1d1b" stroke="#1d1d1b" stroke-width="0.2" letter-spacing="-0.35" >180</text>
<text x="367.5" y="596.5" font-size="11.2" text-anchor="middle" fill="#1d1d1b" stroke="#1d1d1b" stroke-width="0.2" letter-spacing="-0.35" >200</text>
<text x="367.5" y="612.0" font-size="11.2" text-anchor="middle" fill="#1d1d1b" stroke="#1d1d1b" stroke-width="0.2" letter-spacing="-0.35" >225</text>
<text x="367.5" y="627.5" font-size="11.2" text-anchor="middle" fill="#1d1d1b" stroke="#1d1d1b" stroke-width="0.2" letter-spacing="-0.35" >250</text>
<text x="367.5" y="642.5" font-size="11.2" text-anchor="middle" fill="#1d1d1b" stroke="#1d1d1b" stroke-width="0.2" letter-spacing="-0.35" >225</text>
<text x="367.5" y="657.5" font-size="11.2" text-anchor="middle" fill="#1d1d1b" stroke="#1d1d1b" stroke-width="0.2" letter-spacing="-0.35" >250</text>
<text x="367.5" y="672.5" font-size="11.2" text-anchor="middle" fill="#1d1d1b" stroke="#1d1d1b" stroke-width="0.2" letter-spacing="-0.35" >280</text>
<text x="367.5" y="687.5" font-size="11.2" text-anchor="middle" fill="#1d1d1b" stroke="#1d1d1b" stroke-width="0.2" letter-spacing="-0.35" >280</text>
<text x="367.5" y="702.5" font-size="11.2" text-anchor="middle" fill="#1d1d1b" stroke="#1d1d1b" stroke-width="0.2" letter-spacing="-0.35" >280</text>
<text x="367.5" y="717.75" font-size="11.2" text-anchor="middle" fill="#1d1d1b" stroke="#1d1d1b" stroke-width="0.2" letter-spacing="-0.35" >280</text>
<text x="407.0" y="399.75" font-size="11.2" text-anchor="middle" fill="#1d1d1b" stroke="#1d1d1b" stroke-width="0.2" letter-spacing="-0.35" >50</text>
<text x="407.0" y="414.5" font-size="11.2" text-anchor="middle" fill="#1d1d1b" stroke="#1d1d1b" stroke-width="0.2" letter-spacing="-0.35" >55</text>
<text x="407.0" y="430.0" font-size="11.2" text-anchor="middle" fill="#1d1d1b" stroke="#1d1d1b" stroke-width="0.2" letter-spacing="-0.35" >55</text>
<text x="407.0" y="445.5" font-size="11.2" text-anchor="middle" fill="#1d1d1b" stroke="#1d1d1b" stroke-width="0.2" letter-spacing="-0.35" >65</text>
<text x="407.0" y="468.0" font-size="11.2" text-anchor="middle" fill="#1d1d1b" stroke="#1d1d1b" stroke-width="0.2" letter-spacing="-0.35" >50</text>
<text x="407.0" y="490.5" font-size="11.2" text-anchor="middle" fill="#1d1d1b" stroke="#1d1d1b" stroke-width="0.2" letter-spacing="-0.35" >55</text>
<text x="407.0" y="505.5" font-size="11.2" text-anchor="middle" fill="#1d1d1b" stroke="#1d1d1b" stroke-width="0.2" letter-spacing="-0.35" >65</text>
<text x="407.0" y="520.5" font-size="11.2" text-anchor="middle" fill="#1d1d1b" stroke="#1d1d1b" stroke-width="0.2" letter-spacing="-0.35" >50</text>
<text x="407.0" y="536.0" font-size="11.2" text-anchor="middle" fill="#1d1d1b" stroke="#1d1d1b" stroke-width="0.2" letter-spacing="-0.35" >55</text>
<text x="407.0" y="551.5" font-size="11.2" text-anchor="middle" fill="#1d1d1b" stroke="#1d1d1b" stroke-width="0.2" letter-spacing="-0.35" >50</text>
<text x="407.0" y="566.5" font-size="11.2" text-anchor="middle" fill="#1d1d1b" stroke="#1d1d1b" stroke-width="0.2" letter-spacing="-0.35" >65</text>
<text x="407.0" y="581.5" font-size="11.2" text-anchor="middle" fill="#1d1d1b" stroke="#1d1d1b" stroke-width="0.2" letter-spacing="-0.35" >65</text>
<text x="407.0" y="596.5" font-size="11.2" text-anchor="middle" fill="#1d1d1b" stroke="#1d1d1b" stroke-width="0.2" letter-spacing="-0.35" >65</text>
<text x="407.0" y="612.0" font-size="11.2" text-anchor="middle" fill="#1d1d1b" stroke="#1d1d1b" stroke-width="0.2" letter-spacing="-0.35" >65</text>
<text x="407.0" y="627.5" font-size="11.2" text-anchor="middle" fill="#1d1d1b" stroke="#1d1d1b" stroke-width="0.2" letter-spacing="-0.35" >80</text>
<text x="407.0" y="642.5" font-size="11.2" text-anchor="middle" fill="#1d1d1b" stroke="#1d1d1b" stroke-width="0.2" letter-spacing="-0.35" >65</text>
<text x="407.0" y="657.5" font-size="11.2" text-anchor="middle" fill="#1d1d1b" stroke="#1d1d1b" stroke-width="0.2" letter-spacing="-0.35" >65</text>
<text x="407.0" y="672.5" font-size="11.2" text-anchor="middle" fill="#1d1d1b" stroke="#1d1d1b" stroke-width="0.2" letter-spacing="-0.35" >80</text>
<text x="407.0" y="687.5" font-size="11.2" text-anchor="middle" fill="#1d1d1b" stroke="#1d1d1b" stroke-width="0.2" letter-spacing="-0.35" >80</text>
<text x="407.0" y="702.5" font-size="11.2" text-anchor="middle" fill="#1d1d1b" stroke="#1d1d1b" stroke-width="0.2" letter-spacing="-0.35" >80</text>
<text x="407.0" y="717.75" font-size="11.2" text-anchor="middle" fill="#1d1d1b" stroke="#1d1d1b" stroke-width="0.2" letter-spacing="-0.35" >80</text>
<text x="446.0" y="399.75" font-size="11.2" text-anchor="middle" fill="#1d1d1b" stroke="#1d1d1b" stroke-width="0.2" letter-spacing="-0.35" >100</text>
<text x="446.0" y="422.5" font-size="11.2" text-anchor="middle" fill="#1d1d1b" stroke="#1d1d1b" stroke-width="0.2" letter-spacing="-0.35" >95</text>
<text x="446.0" y="445.5" font-size="11.2" text-anchor="middle" fill="#1d1d1b" stroke="#1d1d1b" stroke-width="0.2" letter-spacing="-0.35" >125</text>
<text x="446.0" y="475.5" font-size="11.2" text-anchor="middle" fill="#1d1d1b" stroke="#1d1d1b" stroke-width="0.2" letter-spacing="-0.35" >100</text>
<text x="446.0" y="505.5" font-size="11.2" text-anchor="middle" fill="#1d1d1b" stroke="#1d1d1b" stroke-width="0.2" letter-spacing="-0.35" >125</text>
<text x="446.0" y="536.0" font-size="11.2" text-anchor="middle" fill="#1d1d1b" stroke="#1d1d1b" stroke-width="0.2" letter-spacing="-0.35" >100</text>
<text x="446.0" y="589.5" font-size="11.2" text-anchor="middle" fill="#1d1d1b" stroke="#1d1d1b" stroke-width="0.2" letter-spacing="-0.35" >125</text>
<text x="446.0" y="627.5" font-size="11.2" text-anchor="middle" fill="#1d1d1b" stroke="#1d1d1b" stroke-width="0.2" letter-spacing="-0.35" >160</text>
<text x="446.0" y="650.0" font-size="11.2" text-anchor="middle" fill="#1d1d1b" stroke="#1d1d1b" stroke-width="0.2" letter-spacing="-0.35" >125</text>
<text x="446.0" y="695.25" font-size="11.2" text-anchor="middle" fill="#1d1d1b" stroke="#1d1d1b" stroke-width="0.2" letter-spacing="-0.35" >160</text>
<text x="485.5" y="415.25" font-size="11.2" text-anchor="middle" fill="#1d1d1b" stroke="#1d1d1b" stroke-width="0.2" letter-spacing="-0.35" >70</text>
<text x="485.5" y="445.5" font-size="11.2" text-anchor="middle" fill="#1d1d1b" stroke="#1d1d1b" stroke-width="0.2" letter-spacing="-0.35" >95</text>
<text x="485.5" y="475.5" font-size="11.2" text-anchor="middle" fill="#1d1d1b" stroke="#1d1d1b" stroke-width="0.2" letter-spacing="-0.35" >70</text>
<text x="485.5" y="505.5" font-size="11.2" text-anchor="middle" fill="#1d1d1b" stroke="#1d1d1b" stroke-width="0.2" letter-spacing="-0.35" >95</text>
<text x="485.5" y="536.0" font-size="11.2" text-anchor="middle" fill="#1d1d1b" stroke="#1d1d1b" stroke-width="0.2" letter-spacing="-0.35" >70</text>
<text x="485.5" y="589.5" font-size="11.2" text-anchor="middle" fill="#1d1d1b" stroke="#1d1d1b" stroke-width="0.2" letter-spacing="-0.35" >95</text>
<text x="485.5" y="627.5" font-size="11.2" text-anchor="middle" fill="#1d1d1b" stroke="#1d1d1b" stroke-width="0.2" letter-spacing="-0.35" >120</text>
<text x="485.5" y="650.0" font-size="11.2" text-anchor="middle" fill="#1d1d1b" stroke="#1d1d1b" stroke-width="0.2" letter-spacing="-0.35" >95</text>
<text x="485.5" y="695.25" font-size="11.2" text-anchor="middle" fill="#1d1d1b" stroke="#1d1d1b" stroke-width="0.2" letter-spacing="-0.35" >120</text>
<text x="525.0" y="415.25" font-size="11.2" text-anchor="middle" fill="#1d1d1b" stroke="#1d1d1b" stroke-width="0.2" letter-spacing="-0.35" >240</text>
<text x="525.0" y="445.5" font-size="11.2" text-anchor="middle" fill="#1d1d1b" stroke="#1d1d1b" stroke-width="0.2" letter-spacing="-0.35" >320</text>
<text x="525.0" y="460.5" font-size="11.2" text-anchor="middle" fill="#1d1d1b" stroke="#1d1d1b" stroke-width="0.2" letter-spacing="-0.35" >210</text>
<text x="525.0" y="475.5" font-size="11.2" text-anchor="middle" fill="#1d1d1b" stroke="#1d1d1b" stroke-width="0.2" letter-spacing="-0.35" >240</text>
<text x="525.0" y="490.5" font-size="11.2" text-anchor="middle" fill="#1d1d1b" stroke="#1d1d1b" stroke-width="0.2" letter-spacing="-0.35" >265</text>
<text x="525.0" y="505.5" font-size="11.2" text-anchor="middle" fill="#1d1d1b" stroke="#1d1d1b" stroke-width="0.2" letter-spacing="-0.35" >320</text>
<text x="525.0" y="520.5" font-size="11.2" text-anchor="middle" fill="#1d1d1b" stroke="#1d1d1b" stroke-width="0.2" letter-spacing="-0.35" >240</text>
<text x="525.0" y="543.5" font-size="11.2" text-anchor="middle" fill="#1d1d1b" stroke="#1d1d1b" stroke-width="0.2" letter-spacing="-0.35" >265</text>
<text x="525.0" y="566.5" font-size="11.2" text-anchor="middle" fill="#1d1d1b" stroke="#1d1d1b" stroke-width="0.2" letter-spacing="-0.35" >320</text>
<text x="525.0" y="589.0" font-size="11.2" text-anchor="middle" fill="#1d1d1b" stroke="#1d1d1b" stroke-width="0.2" letter-spacing="-0.35" >280</text>
<text x="525.0" y="612.0" font-size="11.2" text-anchor="middle" fill="#1d1d1b" stroke="#1d1d1b" stroke-width="0.2" letter-spacing="-0.35" >320</text>
<text x="525.0" y="627.5" font-size="11.2" text-anchor="middle" fill="#1d1d1b" stroke="#1d1d1b" stroke-width="0.2" letter-spacing="-0.35" >360</text>
<text x="525.0" y="642.5" font-size="11.2" text-anchor="middle" fill="#1d1d1b" stroke="#1d1d1b" stroke-width="0.2" letter-spacing="-0.35" >320</text>
<text x="525.0" y="657.5" font-size="11.2" text-anchor="middle" fill="#1d1d1b" stroke="#1d1d1b" stroke-width="0.2" letter-spacing="-0.35" >345</text>
<text x="525.0" y="672.5" font-size="11.2" text-anchor="middle" fill="#1d1d1b" stroke="#1d1d1b" stroke-width="0.2" letter-spacing="-0.35" >400</text>
<text x="525.0" y="695.0" font-size="11.2" text-anchor="middle" fill="#1d1d1b" stroke="#1d1d1b" stroke-width="0.2" letter-spacing="-0.35" >360</text>
<text x="525.0" y="717.75" font-size="11.2" text-anchor="middle" fill="#1d1d1b" stroke="#1d1d1b" stroke-width="0.2" letter-spacing="-0.35" >400</text>
<text x="564.5" y="415.25" font-size="11.2" text-anchor="middle" fill="#1d1d1b" stroke="#1d1d1b" stroke-width="0.2" letter-spacing="-0.35" >190</text>
<text x="564.5" y="445.5" font-size="11.2" text-anchor="middle" fill="#1d1d1b" stroke="#1d1d1b" stroke-width="0.2" letter-spacing="-0.35" >250</text>
<text x="564.5" y="460.5" font-size="11.2" text-anchor="middle" fill="#1d1d1b" stroke="#1d1d1b" stroke-width="0.2" letter-spacing="-0.35" >160</text>
<text x="564.5" y="475.5" font-size="11.2" text-anchor="middle" fill="#1d1d1b" stroke="#1d1d1b" stroke-width="0.2" letter-spacing="-0.35" >190</text>
<text x="564.5" y="490.5" font-size="11.2" text-anchor="middle" fill="#1d1d1b" stroke="#1d1d1b" stroke-width="0.2" letter-spacing="-0.35" >212</text>
<text x="564.5" y="505.5" font-size="11.2" text-anchor="middle" fill="#1d1d1b" stroke="#1d1d1b" stroke-width="0.2" letter-spacing="-0.35" >250</text>
<text x="564.5" y="520.5" font-size="11.2" text-anchor="middle" fill="#1d1d1b" stroke="#1d1d1b" stroke-width="0.2" letter-spacing="-0.35" >190</text>
<text x="564.5" y="543.5" font-size="11.2" text-anchor="middle" fill="#1d1d1b" stroke="#1d1d1b" stroke-width="0.2" letter-spacing="-0.35" >212</text>
<text x="564.5" y="566.5" font-size="11.2" text-anchor="middle" fill="#1d1d1b" stroke="#1d1d1b" stroke-width="0.2" letter-spacing="-0.35" >250</text>
<text x="564.5" y="589.0" font-size="11.2" text-anchor="middle" fill="#1d1d1b" stroke="#1d1d1b" stroke-width="0.2" letter-spacing="-0.35" >212</text>
<text x="564.5" y="612.0" font-size="11.2" text-anchor="middle" fill="#1d1d1b" stroke="#1d1d1b" stroke-width="0.2" letter-spacing="-0.35" >250</text>
<text x="564.5" y="627.5" font-size="11.2" text-anchor="middle" fill="#1d1d1b" stroke="#1d1d1b" stroke-width="0.2" letter-spacing="-0.35" >280</text>
<text x="564.5" y="642.5" font-size="11.2" text-anchor="middle" fill="#1d1d1b" stroke="#1d1d1b" stroke-width="0.2" letter-spacing="-0.35" >250</text>
<text x="564.5" y="657.5" font-size="11.2" text-anchor="middle" fill="#1d1d1b" stroke="#1d1d1b" stroke-width="0.2" letter-spacing="-0.35" >280</text>
<text x="564.5" y="672.5" font-size="11.2" text-anchor="middle" fill="#1d1d1b" stroke="#1d1d1b" stroke-width="0.2" letter-spacing="-0.35" >315</text>
<text x="564.5" y="695.0" font-size="11.2" text-anchor="middle" fill="#1d1d1b" stroke="#1d1d1b" stroke-width="0.2" letter-spacing="-0.35" >280</text>
<text x="564.5" y="717.75" font-size="11.2" text-anchor="middle" fill="#1d1d1b" stroke="#1d1d1b" stroke-width="0.2" letter-spacing="-0.35" >315</text>
<text x="604.0" y="506.25" font-size="11.2" text-anchor="middle" fill="#1d1d1b" stroke="#1d1d1b" stroke-width="0.2" letter-spacing="-0.35" >14</text>
<text x="604.0" y="627.5" font-size="11.2" text-anchor="middle" fill="#1d1d1b" stroke="#1d1d1b" stroke-width="0.2" letter-spacing="-0.35" >18</text>
<text x="604.0" y="650.0" font-size="11.2" text-anchor="middle" fill="#1d1d1b" stroke="#1d1d1b" stroke-width="0.2" letter-spacing="-0.35" >14</text>
<text x="604.0" y="695.25" font-size="11.2" text-anchor="middle" fill="#1d1d1b" stroke="#1d1d1b" stroke-width="0.2" letter-spacing="-0.35" >18</text>
<text x="643.0" y="559.0" font-size="11.2" text-anchor="middle" fill="#1d1d1b" stroke="#1d1d1b" stroke-width="0.2" letter-spacing="-0.35" >14</text>
<text x="682.5" y="506.25" font-size="11.2" text-anchor="middle" fill="#1d1d1b" stroke="#1d1d1b" stroke-width="0.2" letter-spacing="-0.35" >260</text>
<text x="682.5" y="627.5" font-size="11.2" text-anchor="middle" fill="#1d1d1b" stroke="#1d1d1b" stroke-width="0.2" letter-spacing="-0.35" >340</text>
<text x="682.5" y="642.5" font-size="11.2" text-anchor="middle" fill="#1d1d1b" stroke="#1d1d1b" stroke-width="0.2" letter-spacing="-0.35" >260</text>
<text x="682.5" y="665.0" font-size="11.2" text-anchor="middle" fill="#1d1d1b" stroke="#1d1d1b" stroke-width="0.2" letter-spacing="-0.35" >340</text>
<text x="682.5" y="687.5" font-size="11.2" text-anchor="middle" fill="#1d1d1b" stroke="#1d1d1b" stroke-width="0.2" letter-spacing="-0.35" >260</text>
<text x="682.5" y="710.25" font-size="11.2" text-anchor="middle" fill="#1d1d1b" stroke="#1d1d1b" stroke-width="0.2" letter-spacing="-0.35" >340</text>
<text x="722.0" y="498.25" font-size="11.2" text-anchor="middle" fill="#1d1d1b" stroke="#1d1d1b" stroke-width="0.2" letter-spacing="-0.35" >100</text>
<text x="722.0" y="664.75" font-size="11.2" text-anchor="middle" fill="#1d1d1b" stroke="#1d1d1b" stroke-width="0.2" letter-spacing="-0.35" >140</text>
<text x="761.0" y="506.25" font-size="11.2" text-anchor="middle" fill="#1d1d1b" stroke="#1d1d1b" stroke-width="0.2" letter-spacing="-0.35" >24</text>
<text x="761.0" y="627.5" font-size="11.2" text-anchor="middle" fill="#1d1d1b" stroke="#1d1d1b" stroke-width="0.2" letter-spacing="-0.35" >32</text>
<text x="761.0" y="642.5" font-size="11.2" text-anchor="middle" fill="#1d1d1b" stroke="#1d1d1b" stroke-width="0.2" letter-spacing="-0.35" >24</text>
<text x="761.0" y="665.0" font-size="11.2" text-anchor="middle" fill="#1d1d1b" stroke="#1d1d1b" stroke-width="0.2" letter-spacing="-0.35" >32</text>
<text x="761.0" y="687.5" font-size="11.2" text-anchor="middle" fill="#1d1d1b" stroke="#1d1d1b" stroke-width="0.2" letter-spacing="-0.35" >24</text>
<text x="761.0" y="710.25" font-size="11.2" text-anchor="middle" fill="#1d1d1b" stroke="#1d1d1b" stroke-width="0.2" letter-spacing="-0.35" >32</text>
<text x="800.25" y="506.25" font-size="11.2" text-anchor="middle" fill="#1d1d1b" stroke="#1d1d1b" stroke-width="0.2" letter-spacing="-0.35" >50</text>
<text x="800.25" y="627.5" font-size="11.2" text-anchor="middle" fill="#1d1d1b" stroke="#1d1d1b" stroke-width="0.2" letter-spacing="-0.35" >80</text>
<text x="800.25" y="642.5" font-size="11.2" text-anchor="middle" fill="#1d1d1b" stroke="#1d1d1b" stroke-width="0.2" letter-spacing="-0.35" >50</text>
<text x="800.25" y="665.0" font-size="11.2" text-anchor="middle" fill="#1d1d1b" stroke="#1d1d1b" stroke-width="0.2" letter-spacing="-0.35" >80</text>
<text x="800.25" y="687.5" font-size="11.2" text-anchor="middle" fill="#1d1d1b" stroke="#1d1d1b" stroke-width="0.2" letter-spacing="-0.35" >50</text>
<text x="800.25" y="710.25" font-size="11.2" text-anchor="middle" fill="#1d1d1b" stroke="#1d1d1b" stroke-width="0.2" letter-spacing="-0.35" >80</text>
<text x="59.5" y="359.6" font-size="11.7" text-anchor="start" fill="#1d1d1b" font-weight="bold" >ТИП</text>
<text x="485.3" y="359.6" font-size="11.7" text-anchor="middle" fill="#1d1d1b" font-weight="bold" textLength="78.6" lengthAdjust="spacingAndGlyphs" >РАЗМЕРЫ, мм</text>
<text x="840" y="358" font-size="11.7" text-anchor="middle" fill="#1d1d1b" font-weight="bold" >кг</text>
<text x="170.75" y="381" font-size="11.7" text-anchor="middle" fill="#1d1d1b" font-weight="bold" >DN1</text>
<text x="209.75" y="381" font-size="11.7" text-anchor="middle" fill="#1d1d1b" font-weight="bold" >DN2</text>
<text x="248.75" y="381" font-size="11.2" text-anchor="middle" fill="#1d1d1b" stroke="#1d1d1b" stroke-width="0.2" letter-spacing="-0.35" >a</text>
<text x="288.5" y="381" font-size="11.2" text-anchor="middle" fill="#1d1d1b" stroke="#1d1d1b" stroke-width="0.2" letter-spacing="-0.35" >f</text>
<text x="328.0" y="381" font-size="11.2" text-anchor="middle" fill="#1d1d1b" stroke="#1d1d1b" stroke-width="0.2" letter-spacing="-0.35" >h1</text>
<text x="367.5" y="381" font-size="11.2" text-anchor="middle" fill="#1d1d1b" stroke="#1d1d1b" stroke-width="0.2" letter-spacing="-0.35" >h2</text>
<text x="407.0" y="381" font-size="11.2" text-anchor="middle" fill="#1d1d1b" stroke="#1d1d1b" stroke-width="0.2" letter-spacing="-0.35" >b</text>
<text x="446.0" y="381" font-size="11.2" text-anchor="middle" fill="#1d1d1b" stroke="#1d1d1b" stroke-width="0.2" letter-spacing="-0.35" >m1</text>
<text x="485.5" y="381" font-size="11.2" text-anchor="middle" fill="#1d1d1b" stroke="#1d1d1b" stroke-width="0.2" letter-spacing="-0.35" >m2</text>
<text x="525.0" y="381" font-size="11.2" text-anchor="middle" fill="#1d1d1b" stroke="#1d1d1b" stroke-width="0.2" letter-spacing="-0.35" >n1</text>
<text x="564.5" y="381" font-size="11.2" text-anchor="middle" fill="#1d1d1b" stroke="#1d1d1b" stroke-width="0.2" letter-spacing="-0.35" >n2</text>
<text x="604.0" y="381" font-size="11.2" text-anchor="middle" fill="#1d1d1b" stroke="#1d1d1b" stroke-width="0.2" letter-spacing="-0.35" >s1</text>
<text x="643.0" y="381" font-size="11.2" text-anchor="middle" fill="#1d1d1b" stroke="#1d1d1b" stroke-width="0.2" letter-spacing="-0.35" >s2</text>
<text x="682.5" y="381" font-size="11.2" text-anchor="middle" fill="#1d1d1b" stroke="#1d1d1b" stroke-width="0.2" letter-spacing="-0.35" >w</text>
<text x="722.0" y="381" font-size="11.2" text-anchor="middle" fill="#1d1d1b" stroke="#1d1d1b" stroke-width="0.2" letter-spacing="-0.35" >x</text>
<text x="761.0" y="381" font-size="11.2" text-anchor="middle" fill="#1d1d1b" stroke="#1d1d1b" stroke-width="0.2" letter-spacing="-0.35" >d</text>
<text x="800.25" y="381" font-size="11.2" text-anchor="middle" fill="#1d1d1b" stroke="#1d1d1b" stroke-width="0.2" letter-spacing="-0.35" >l</text>
<text x="55.3" y="28.1" font-size="16" text-anchor="start" fill="#1b4c92" font-weight="bold" textLength="121.8" lengthAdjust="spacingAndGlyphs" >РАЗМЕРЫ И ВЕС</text>
<line x1="435.5" y1="250" x2="565.5" y2="250" stroke="#8b8d91" stroke-width="1.6" />
<line x1="435.5" y1="286" x2="565.5" y2="286" stroke="#8b8d91" stroke-width="1.6" />
<line x1="435.5" y1="303.5" x2="565.5" y2="303.5" stroke="#8b8d91" stroke-width="1" />
<line x1="435.5" y1="322" x2="565.5" y2="322" stroke="#8b8d91" stroke-width="1.6" />
<line x1="478.5" y1="268" x2="478.5" y2="321.5" stroke="#8b8d91" stroke-width="1" />
<line x1="521.5" y1="268" x2="521.5" y2="321.5" stroke="#8b8d91" stroke-width="1" />
<text x="500" y="264" font-size="11.7" text-anchor="middle" fill="#1d1d1b" font-weight="bold" >ВАЛ, мм</text>
<text x="457" y="281.5" font-size="11.2" text-anchor="middle" fill="#1d1d1b" stroke="#1d1d1b" stroke-width="0.2" >d</text>
<text x="500" y="281.5" font-size="11.2" text-anchor="middle" fill="#1d1d1b" stroke="#1d1d1b" stroke-width="0.2" >u</text>
<text x="543" y="281.5" font-size="11.2" text-anchor="middle" fill="#1d1d1b" stroke="#1d1d1b" stroke-width="0.2" >t</text>
<text x="457" y="298.7" font-size="11.2" text-anchor="middle" fill="#1d1d1b" stroke="#1d1d1b" stroke-width="0.2" letter-spacing="-0.35" >24 k6</text>
<text x="500" y="298.7" font-size="11.2" text-anchor="middle" fill="#1d1d1b" stroke="#1d1d1b" stroke-width="0.2" >8</text>
<text x="543" y="298.7" font-size="11.2" text-anchor="middle" fill="#1d1d1b" stroke="#1d1d1b" stroke-width="0.2" letter-spacing="-0.35" >27</text>
<text x="457" y="316.3" font-size="11.2" text-anchor="middle" fill="#1d1d1b" stroke="#1d1d1b" stroke-width="0.2" letter-spacing="-0.35" >32 k6</text>
<text x="500" y="316.3" font-size="11.2" text-anchor="middle" fill="#1d1d1b" stroke="#1d1d1b" stroke-width="0.2" letter-spacing="-0.35" >10</text>
<text x="543" y="316.3" font-size="11.2" text-anchor="middle" fill="#1d1d1b" stroke="#1d1d1b" stroke-width="0.2" letter-spacing="-0.35" >35</text>
<g fill="#b9b9b9" fill-opacity="0.85">
<text x="842.5" y="688" font-size="18" text-anchor="start" fill="#bcbcbc" stroke="#bcbcbc" stroke-width="0.2" >Активация Windows</text>
<text x="838.5" y="709" font-size="14" text-anchor="start" fill="#bcbcbc" stroke="#bcbcbc" stroke-width="0.2" >Чтобы активировать Windows</text>
<text x="843.5" y="729" font-size="14" text-anchor="start" fill="#bcbcbc" stroke="#bcbcbc" stroke-width="0.2" >Параметры</text>
</g>
</svg>
</body></html>
